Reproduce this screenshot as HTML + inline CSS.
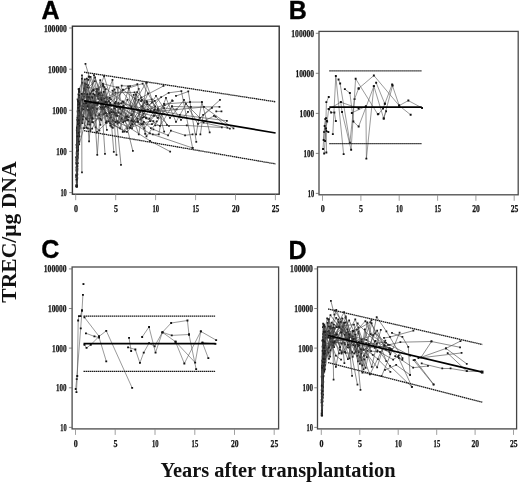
<!DOCTYPE html>
<html><head><meta charset="utf-8"><title>TREC</title>
<style>
html,body{margin:0;padding:0;background:#fff;}
body{width:520px;height:482px;overflow:hidden;font-family:"Liberation Serif",serif;}
svg{display:block;will-change:transform;opacity:0.999;}
.tk{font-family:"Liberation Serif",serif;font-weight:bold;font-size:9.8px;fill:#111;stroke:#111;stroke-width:0.25px;}
.pl{font-family:"Liberation Sans",sans-serif;font-weight:bold;font-size:25px;fill:#000;stroke:#000;stroke-width:0.35px;}
.ax{font-family:"Liberation Serif",serif;font-weight:bold;font-size:20.4px;fill:#111;}
</style></head><body>
<svg width="520" height="482" viewBox="0 0 520 482">
<rect width="520" height="482" fill="#fff"/>
<rect x="72.4" y="26.2" width="206.8" height="168.0" fill="none" stroke="#303030" stroke-width="1.4"/>
<line x1="69.2" y1="28.0" x2="72.4" y2="28.0" stroke="#666" stroke-width="0.8"/>
<text class="tk" x="66.8" y="31.5" text-anchor="end" textLength="22.8" lengthAdjust="spacingAndGlyphs">100000</text>
<line x1="69.2" y1="69.2" x2="72.4" y2="69.2" stroke="#666" stroke-width="0.8"/>
<text class="tk" x="66.8" y="72.7" text-anchor="end" textLength="18.7" lengthAdjust="spacingAndGlyphs">10000</text>
<line x1="69.2" y1="110.3" x2="72.4" y2="110.3" stroke="#666" stroke-width="0.8"/>
<text class="tk" x="66.8" y="113.8" text-anchor="end" textLength="14.6" lengthAdjust="spacingAndGlyphs">1000</text>
<line x1="69.2" y1="151.4" x2="72.4" y2="151.4" stroke="#666" stroke-width="0.8"/>
<text class="tk" x="66.8" y="154.9" text-anchor="end" textLength="10.5" lengthAdjust="spacingAndGlyphs">100</text>
<line x1="69.2" y1="192.6" x2="72.4" y2="192.6" stroke="#666" stroke-width="0.8"/>
<text class="tk" x="66.8" y="196.1" text-anchor="end" textLength="6.4" lengthAdjust="spacingAndGlyphs">10</text>
<line x1="75.7" y1="194.2" x2="75.7" y2="200.2" stroke="#888" stroke-width="0.8"/>
<text class="tk" x="75.9" y="211.8" text-anchor="middle" textLength="4.0" lengthAdjust="spacingAndGlyphs">0</text>
<line x1="115.7" y1="194.2" x2="115.7" y2="200.2" stroke="#888" stroke-width="0.8"/>
<text class="tk" x="115.9" y="211.8" text-anchor="middle" textLength="4.0" lengthAdjust="spacingAndGlyphs">5</text>
<line x1="155.6" y1="194.2" x2="155.6" y2="200.2" stroke="#888" stroke-width="0.8"/>
<text class="tk" x="155.8" y="211.8" text-anchor="middle" textLength="6.6" lengthAdjust="spacingAndGlyphs">10</text>
<line x1="195.6" y1="194.2" x2="195.6" y2="200.2" stroke="#888" stroke-width="0.8"/>
<text class="tk" x="195.8" y="211.8" text-anchor="middle" textLength="6.6" lengthAdjust="spacingAndGlyphs">15</text>
<line x1="235.5" y1="194.2" x2="235.5" y2="200.2" stroke="#888" stroke-width="0.8"/>
<text class="tk" x="235.7" y="211.8" text-anchor="middle" textLength="7.6" lengthAdjust="spacingAndGlyphs">20</text>
<line x1="275.4" y1="194.2" x2="275.4" y2="200.2" stroke="#888" stroke-width="0.8"/>
<text class="tk" x="275.6" y="211.8" text-anchor="middle" textLength="7.6" lengthAdjust="spacingAndGlyphs">25</text>
<rect x="319.0" y="31.4" width="199.2" height="163.4" fill="none" stroke="#4a4a4a" stroke-width="1.3"/>
<line x1="315.8" y1="33.3" x2="319.0" y2="33.3" stroke="#666" stroke-width="0.8"/>
<text class="tk" x="314.1" y="36.8" text-anchor="end" textLength="22.8" lengthAdjust="spacingAndGlyphs">100000</text>
<line x1="315.8" y1="73.3" x2="319.0" y2="73.3" stroke="#666" stroke-width="0.8"/>
<text class="tk" x="314.1" y="76.8" text-anchor="end" textLength="18.7" lengthAdjust="spacingAndGlyphs">10000</text>
<line x1="315.8" y1="113.4" x2="319.0" y2="113.4" stroke="#666" stroke-width="0.8"/>
<text class="tk" x="314.1" y="116.9" text-anchor="end" textLength="14.6" lengthAdjust="spacingAndGlyphs">1000</text>
<line x1="315.8" y1="153.4" x2="319.0" y2="153.4" stroke="#666" stroke-width="0.8"/>
<text class="tk" x="314.1" y="156.9" text-anchor="end" textLength="10.5" lengthAdjust="spacingAndGlyphs">100</text>
<line x1="315.8" y1="193.4" x2="319.0" y2="193.4" stroke="#666" stroke-width="0.8"/>
<text class="tk" x="314.1" y="196.9" text-anchor="end" textLength="6.4" lengthAdjust="spacingAndGlyphs">10</text>
<line x1="322.5" y1="194.8" x2="322.5" y2="200.8" stroke="#888" stroke-width="0.8"/>
<text class="tk" x="322.7" y="212.4" text-anchor="middle" textLength="4.0" lengthAdjust="spacingAndGlyphs">0</text>
<line x1="360.9" y1="194.8" x2="360.9" y2="200.8" stroke="#888" stroke-width="0.8"/>
<text class="tk" x="361.1" y="212.4" text-anchor="middle" textLength="4.0" lengthAdjust="spacingAndGlyphs">5</text>
<line x1="399.2" y1="194.8" x2="399.2" y2="200.8" stroke="#888" stroke-width="0.8"/>
<text class="tk" x="399.4" y="212.4" text-anchor="middle" textLength="6.6" lengthAdjust="spacingAndGlyphs">10</text>
<line x1="437.6" y1="194.8" x2="437.6" y2="200.8" stroke="#888" stroke-width="0.8"/>
<text class="tk" x="437.8" y="212.4" text-anchor="middle" textLength="6.6" lengthAdjust="spacingAndGlyphs">15</text>
<line x1="475.9" y1="194.8" x2="475.9" y2="200.8" stroke="#888" stroke-width="0.8"/>
<text class="tk" x="476.1" y="212.4" text-anchor="middle" textLength="7.6" lengthAdjust="spacingAndGlyphs">20</text>
<line x1="514.2" y1="194.8" x2="514.2" y2="200.8" stroke="#888" stroke-width="0.8"/>
<text class="tk" x="514.5" y="212.4" text-anchor="middle" textLength="7.6" lengthAdjust="spacingAndGlyphs">25</text>
<rect x="72.1" y="267.0" width="206.5" height="161.9" fill="none" stroke="#4a4a4a" stroke-width="1.3"/>
<line x1="68.9" y1="268.9" x2="72.1" y2="268.9" stroke="#666" stroke-width="0.8"/>
<text class="tk" x="66.6" y="272.4" text-anchor="end" textLength="22.8" lengthAdjust="spacingAndGlyphs">100000</text>
<line x1="68.9" y1="308.5" x2="72.1" y2="308.5" stroke="#666" stroke-width="0.8"/>
<text class="tk" x="66.6" y="312.0" text-anchor="end" textLength="18.7" lengthAdjust="spacingAndGlyphs">10000</text>
<line x1="68.9" y1="348.1" x2="72.1" y2="348.1" stroke="#666" stroke-width="0.8"/>
<text class="tk" x="66.6" y="351.6" text-anchor="end" textLength="14.6" lengthAdjust="spacingAndGlyphs">1000</text>
<line x1="68.9" y1="387.8" x2="72.1" y2="387.8" stroke="#666" stroke-width="0.8"/>
<text class="tk" x="66.6" y="391.3" text-anchor="end" textLength="10.5" lengthAdjust="spacingAndGlyphs">100</text>
<line x1="68.9" y1="427.4" x2="72.1" y2="427.4" stroke="#666" stroke-width="0.8"/>
<text class="tk" x="66.6" y="430.9" text-anchor="end" textLength="6.4" lengthAdjust="spacingAndGlyphs">10</text>
<line x1="75.5" y1="428.9" x2="75.5" y2="434.9" stroke="#888" stroke-width="0.8"/>
<text class="tk" x="75.7" y="446.5" text-anchor="middle" textLength="4.0" lengthAdjust="spacingAndGlyphs">0</text>
<line x1="115.2" y1="428.9" x2="115.2" y2="434.9" stroke="#888" stroke-width="0.8"/>
<text class="tk" x="115.5" y="446.5" text-anchor="middle" textLength="4.0" lengthAdjust="spacingAndGlyphs">5</text>
<line x1="155.0" y1="428.9" x2="155.0" y2="434.9" stroke="#888" stroke-width="0.8"/>
<text class="tk" x="155.2" y="446.5" text-anchor="middle" textLength="6.6" lengthAdjust="spacingAndGlyphs">10</text>
<line x1="194.8" y1="428.9" x2="194.8" y2="434.9" stroke="#888" stroke-width="0.8"/>
<text class="tk" x="194.9" y="446.5" text-anchor="middle" textLength="6.6" lengthAdjust="spacingAndGlyphs">15</text>
<line x1="234.5" y1="428.9" x2="234.5" y2="434.9" stroke="#888" stroke-width="0.8"/>
<text class="tk" x="234.7" y="446.5" text-anchor="middle" textLength="7.6" lengthAdjust="spacingAndGlyphs">20</text>
<line x1="274.2" y1="428.9" x2="274.2" y2="434.9" stroke="#888" stroke-width="0.8"/>
<text class="tk" x="274.4" y="446.5" text-anchor="middle" textLength="7.6" lengthAdjust="spacingAndGlyphs">25</text>
<rect x="317.5" y="266.9" width="199.1" height="162.0" fill="none" stroke="#444" stroke-width="1.3"/>
<line x1="314.3" y1="268.9" x2="317.5" y2="268.9" stroke="#666" stroke-width="0.8"/>
<text class="tk" x="312.9" y="272.4" text-anchor="end" textLength="22.8" lengthAdjust="spacingAndGlyphs">100000</text>
<line x1="314.3" y1="308.5" x2="317.5" y2="308.5" stroke="#666" stroke-width="0.8"/>
<text class="tk" x="312.9" y="312.0" text-anchor="end" textLength="18.7" lengthAdjust="spacingAndGlyphs">10000</text>
<line x1="314.3" y1="348.1" x2="317.5" y2="348.1" stroke="#666" stroke-width="0.8"/>
<text class="tk" x="312.9" y="351.6" text-anchor="end" textLength="14.6" lengthAdjust="spacingAndGlyphs">1000</text>
<line x1="314.3" y1="387.8" x2="317.5" y2="387.8" stroke="#666" stroke-width="0.8"/>
<text class="tk" x="312.9" y="391.3" text-anchor="end" textLength="10.5" lengthAdjust="spacingAndGlyphs">100</text>
<line x1="314.3" y1="427.4" x2="317.5" y2="427.4" stroke="#666" stroke-width="0.8"/>
<text class="tk" x="312.9" y="430.9" text-anchor="end" textLength="6.4" lengthAdjust="spacingAndGlyphs">10</text>
<line x1="321.3" y1="428.9" x2="321.3" y2="434.9" stroke="#888" stroke-width="0.8"/>
<text class="tk" x="321.5" y="446.5" text-anchor="middle" textLength="4.0" lengthAdjust="spacingAndGlyphs">0</text>
<line x1="359.8" y1="428.9" x2="359.8" y2="434.9" stroke="#888" stroke-width="0.8"/>
<text class="tk" x="359.9" y="446.5" text-anchor="middle" textLength="4.0" lengthAdjust="spacingAndGlyphs">5</text>
<line x1="398.2" y1="428.9" x2="398.2" y2="434.9" stroke="#888" stroke-width="0.8"/>
<text class="tk" x="398.4" y="446.5" text-anchor="middle" textLength="6.6" lengthAdjust="spacingAndGlyphs">10</text>
<line x1="436.7" y1="428.9" x2="436.7" y2="434.9" stroke="#888" stroke-width="0.8"/>
<text class="tk" x="436.9" y="446.5" text-anchor="middle" textLength="6.6" lengthAdjust="spacingAndGlyphs">15</text>
<line x1="475.1" y1="428.9" x2="475.1" y2="434.9" stroke="#888" stroke-width="0.8"/>
<text class="tk" x="475.3" y="446.5" text-anchor="middle" textLength="7.6" lengthAdjust="spacingAndGlyphs">20</text>
<line x1="513.5" y1="428.9" x2="513.5" y2="434.9" stroke="#888" stroke-width="0.8"/>
<text class="tk" x="513.8" y="446.5" text-anchor="middle" textLength="7.6" lengthAdjust="spacingAndGlyphs">25</text>
<text class="pl" x="41.6" y="19.2">A</text>
<text class="pl" x="288.8" y="19.2">B</text>
<text class="pl" x="41.2" y="257.7">C</text>
<text class="pl" x="288.6" y="258.6">D</text>
<text class="ax" x="160.5" y="476.5" textLength="235" lengthAdjust="spacingAndGlyphs">Years after transplantation</text>
<text class="ax" transform="translate(15.6,302.7) rotate(-90)" textLength="141.2" lengthAdjust="spacingAndGlyphs">TREC/μg DNA</text>
<path d="M323.0 149.0 L324.2 131.9 L326.0 118.2 L326.4 102.2 L328.7 97.0" fill="none" stroke="#555" stroke-width="0.6"/>
<path d="M322.1 148.1h1.9v1.9h-1.9zM323.2 131.0h1.9v1.9h-1.9zM325.1 117.2h1.9v1.9h-1.9zM325.4 101.2h1.9v1.9h-1.9zM327.8 96.0h1.9v1.9h-1.9z" fill="#111"/>
<path d="M324.2 153.5 L326.0 128.4 L327.1 121.6 L328.7 109.1 L331.2 112.5 L334.4 112.5 L335.8 121.1" fill="none" stroke="#555" stroke-width="0.6"/>
<path d="M323.2 152.6h1.9v1.9h-1.9zM325.1 127.5h1.9v1.9h-1.9zM326.2 120.6h1.9v1.9h-1.9zM327.8 108.1h1.9v1.9h-1.9zM330.2 111.5h1.9v1.9h-1.9zM333.4 111.5h1.9v1.9h-1.9zM334.9 120.1h1.9v1.9h-1.9z" fill="#111"/>
<path d="M326.4 152.4 L326.4 131.0 L328.3 131.9" fill="none" stroke="#555" stroke-width="0.6"/>
<path d="M325.4 151.5h1.9v1.9h-1.9zM325.4 130.1h1.9v1.9h-1.9zM327.4 131.0h1.9v1.9h-1.9z" fill="#111"/>
<path d="M332.8 134.1 L335.8 76.0 L343.6 154.2" fill="none" stroke="#555" stroke-width="0.6"/>
<path d="M331.9 133.2h1.9v1.9h-1.9zM334.9 75.0h1.9v1.9h-1.9zM342.7 153.2h1.9v1.9h-1.9z" fill="#111"/>
<path d="M338.5 79.4 L340.1 83.5 L349.9 142.6 L354.5 99.2 L358.6 88.5" fill="none" stroke="#555" stroke-width="0.6"/>
<path d="M337.6 78.5h1.9v1.9h-1.9zM339.2 82.5h1.9v1.9h-1.9zM348.9 141.7h1.9v1.9h-1.9zM353.6 98.2h1.9v1.9h-1.9zM357.7 87.5h1.9v1.9h-1.9z" fill="#111"/>
<path d="M340.8 102.2 L342.0 112.0 L351.1 149.7 L355.6 78.7 L377.8 114.3" fill="none" stroke="#555" stroke-width="0.6"/>
<path d="M339.9 101.2h1.9v1.9h-1.9zM341.1 111.0h1.9v1.9h-1.9zM350.2 148.8h1.9v1.9h-1.9zM354.7 77.8h1.9v1.9h-1.9zM376.9 113.3h1.9v1.9h-1.9z" fill="#111"/>
<path d="M344.9 89.2 L349.9 93.1 L353.4 121.6 L358.6 126.6 L373.9 86.2 L383.7 118.6 L386.0 111.3" fill="none" stroke="#555" stroke-width="0.6"/>
<path d="M343.9 88.2h1.9v1.9h-1.9zM348.9 92.1h1.9v1.9h-1.9zM352.4 120.6h1.9v1.9h-1.9zM357.7 125.6h1.9v1.9h-1.9zM372.9 85.2h1.9v1.9h-1.9zM382.8 117.6h1.9v1.9h-1.9zM385.1 110.3h1.9v1.9h-1.9z" fill="#111"/>
<path d="M358.6 88.5 L373.9 75.5 L399.2 105.6 L408.3 100.6 L422.0 107.9" fill="none" stroke="#555" stroke-width="0.6"/>
<path d="M357.7 87.5h1.9v1.9h-1.9zM372.9 74.5h1.9v1.9h-1.9zM398.2 104.6h1.9v1.9h-1.9zM407.4 99.6h1.9v1.9h-1.9zM421.1 107.0h1.9v1.9h-1.9z" fill="#111"/>
<path d="M351.8 112.9 L365.9 106.3 L366.4 158.6 L373.9 86.2" fill="none" stroke="#555" stroke-width="0.6"/>
<path d="M350.9 112.0h1.9v1.9h-1.9zM364.9 105.3h1.9v1.9h-1.9zM365.4 157.7h1.9v1.9h-1.9zM372.9 85.2h1.9v1.9h-1.9z" fill="#111"/>
<path d="M376.2 82.8 L384.8 103.8 L392.1 84.6 L399.2 105.6 L410.6 114.8" fill="none" stroke="#555" stroke-width="0.6"/>
<path d="M375.2 81.8h1.9v1.9h-1.9zM383.9 102.8h1.9v1.9h-1.9zM391.2 83.6h1.9v1.9h-1.9zM398.2 104.6h1.9v1.9h-1.9zM409.7 113.8h1.9v1.9h-1.9z" fill="#111"/>
<path d="M378.4 114.1 L383.0 108.6 L384.8 103.8" fill="none" stroke="#555" stroke-width="0.6"/>
<path d="M377.4 113.1h1.9v1.9h-1.9zM382.1 107.6h1.9v1.9h-1.9zM383.9 102.8h1.9v1.9h-1.9z" fill="#111"/>
<path d="M383.7 118.6 L392.6 85.6" fill="none" stroke="#555" stroke-width="0.6"/>
<path d="M382.8 117.6h1.9v1.9h-1.9zM391.7 84.6h1.9v1.9h-1.9z" fill="#111"/>
<path d="M328.7 109.1 L340.8 102.2 L358.6 108.4" fill="none" stroke="#555" stroke-width="0.6"/>
<path d="M327.8 108.1h1.9v1.9h-1.9zM339.9 101.2h1.9v1.9h-1.9zM357.7 107.5h1.9v1.9h-1.9z" fill="#111"/>
<path d="M325.0 141.0 L325.5 128.4 L326.8 121.0" fill="none" stroke="#555" stroke-width="0.6"/>
<path d="M324.1 140.1h1.9v1.9h-1.9zM324.6 127.5h1.9v1.9h-1.9zM325.9 120.0h1.9v1.9h-1.9z" fill="#111"/>
<path d="M323.6 140.0 L324.6 126.0 L325.4 119.0" fill="none" stroke="#555" stroke-width="0.6"/>
<path d="M322.7 139.1h1.9v1.9h-1.9zM323.7 125.0h1.9v1.9h-1.9zM324.4 118.0h1.9v1.9h-1.9z" fill="#111"/>
<path d="M75.7 389.0 L76.7 379.1 L80.7 328.3 L82.0 310.5 L82.9 294.9" fill="none" stroke="#555" stroke-width="0.6"/>
<path d="M74.8 388.1h1.9v1.9h-1.9zM75.8 378.2h1.9v1.9h-1.9zM79.8 327.4h1.9v1.9h-1.9zM81.0 309.6h1.9v1.9h-1.9zM82.0 293.9h1.9v1.9h-1.9z" fill="#111"/>
<path d="M76.4 392.2 L77.3 376.0 L78.2 320.5 L78.9 316.1 L80.4 316.1 L82.0 310.5" fill="none" stroke="#555" stroke-width="0.6"/>
<path d="M75.5 391.2h1.9v1.9h-1.9zM76.3 375.1h1.9v1.9h-1.9zM77.2 319.6h1.9v1.9h-1.9zM78.0 315.2h1.9v1.9h-1.9zM79.5 315.2h1.9v1.9h-1.9zM81.0 309.6h1.9v1.9h-1.9z" fill="#111"/>
<path d="M82.5 283.1h1.9v1.9h-1.9z" fill="#111"/>
<path d="M84.5 317.4 L99.1 336.4 L106.3 330.8 L132.1 387.8" fill="none" stroke="#555" stroke-width="0.6"/>
<path d="M83.5 316.4h1.9v1.9h-1.9zM98.1 335.4h1.9v1.9h-1.9zM105.3 329.9h1.9v1.9h-1.9zM131.2 386.9h1.9v1.9h-1.9z" fill="#111"/>
<path d="M86.0 333.3 L94.4 336.4 L99.1 337.5 L106.3 361.3" fill="none" stroke="#555" stroke-width="0.6"/>
<path d="M85.0 332.4h1.9v1.9h-1.9zM93.5 335.4h1.9v1.9h-1.9zM98.1 336.6h1.9v1.9h-1.9zM105.3 360.4h1.9v1.9h-1.9z" fill="#111"/>
<path d="M84.5 344.8 L86.6 347.9 L90.7 344.8 L99.1 336.4" fill="none" stroke="#555" stroke-width="0.6"/>
<path d="M83.5 343.9h1.9v1.9h-1.9zM85.6 346.9h1.9v1.9h-1.9zM89.8 343.9h1.9v1.9h-1.9zM98.1 335.4h1.9v1.9h-1.9z" fill="#111"/>
<path d="M129.0 337.9 L131.2 351.0" fill="none" stroke="#555" stroke-width="0.6"/>
<path d="M128.1 336.9h1.9v1.9h-1.9zM130.2 350.1h1.9v1.9h-1.9z" fill="#111"/>
<path d="M128.1 347.3 L135.3 349.5 L139.9 362.9 L143.7 352.6 L149.0 343.2 L154.6 346.3 L162.4 332.3 L171.1 323.0 L187.4 320.5 L189.0 334.5 L196.1 369.1" fill="none" stroke="#555" stroke-width="0.6"/>
<path d="M127.1 346.4h1.9v1.9h-1.9zM134.4 348.6h1.9v1.9h-1.9zM139.0 361.9h1.9v1.9h-1.9zM142.8 351.7h1.9v1.9h-1.9zM148.1 342.2h1.9v1.9h-1.9zM153.7 345.4h1.9v1.9h-1.9zM161.5 331.4h1.9v1.9h-1.9zM170.2 322.1h1.9v1.9h-1.9zM186.5 319.6h1.9v1.9h-1.9zM188.1 333.6h1.9v1.9h-1.9zM195.2 368.2h1.9v1.9h-1.9z" fill="#111"/>
<path d="M142.1 337.0 L149.0 327.0 L155.5 352.6 L162.4 332.3 L171.7 335.4 L189.0 334.5" fill="none" stroke="#555" stroke-width="0.6"/>
<path d="M141.2 336.1h1.9v1.9h-1.9zM148.1 326.1h1.9v1.9h-1.9zM154.6 351.7h1.9v1.9h-1.9zM161.5 331.4h1.9v1.9h-1.9zM170.8 334.4h1.9v1.9h-1.9zM188.1 333.6h1.9v1.9h-1.9z" fill="#111"/>
<path d="M162.4 332.3 L175.5 341.7 L184.3 363.5 L200.8 331.4 L216.1 340.1" fill="none" stroke="#555" stroke-width="0.6"/>
<path d="M161.5 331.4h1.9v1.9h-1.9zM174.6 340.8h1.9v1.9h-1.9zM183.4 362.6h1.9v1.9h-1.9zM199.9 330.4h1.9v1.9h-1.9zM215.2 339.2h1.9v1.9h-1.9z" fill="#111"/>
<path d="M175.5 341.7 L195.2 362.6 L200.8 331.4" fill="none" stroke="#555" stroke-width="0.6"/>
<path d="M174.6 340.8h1.9v1.9h-1.9zM194.2 361.7h1.9v1.9h-1.9zM199.9 330.4h1.9v1.9h-1.9z" fill="#111"/>
<path d="M202.4 342.6 L208.3 358.2" fill="none" stroke="#555" stroke-width="0.6"/>
<path d="M201.5 341.7h1.9v1.9h-1.9zM207.4 357.2h1.9v1.9h-1.9z" fill="#111"/>
<path d="M202.4 342.6 L215.4 343.9" fill="none" stroke="#555" stroke-width="0.6"/>
<path d="M201.5 341.7h1.9v1.9h-1.9zM214.5 342.9h1.9v1.9h-1.9z" fill="#111"/>
<path d="M76.4 167.4 L76.7 154.0 L77.4 130.5 L78.2 134.4 L78.8 134.7 L79.4 132.0 L85.8 101.7 L93.7 102.3 L100.0 95.1 L113.0 120.5 L132.0 128.4 L137.4 118.9 L144.6 102.4" fill="none" stroke="#464646" stroke-width="0.62"/>
<path d="M75.5 166.5h1.75v1.75h-1.75zM75.8 153.1h1.75v1.75h-1.75zM76.5 129.6h1.75v1.75h-1.75zM77.3 133.5h1.75v1.75h-1.75zM77.9 133.8h1.75v1.75h-1.75zM78.5 131.1h1.75v1.75h-1.75zM84.9 100.8h1.75v1.75h-1.75zM92.8 101.4h1.75v1.75h-1.75zM99.2 94.2h1.75v1.75h-1.75zM112.1 119.6h1.75v1.75h-1.75zM131.1 127.5h1.75v1.75h-1.75zM136.5 118.0h1.75v1.75h-1.75zM143.7 101.5h1.75v1.75h-1.75z" fill="#1c1c1c"/>
<path d="M76.4 158.0 L76.9 130.5 L77.6 99.3 L78.0 100.5 L78.4 105.1 L78.7 100.3 L79.3 106.4 L88.7 87.7 L91.5 107.1 L101.5 109.2 L104.4 87.2 L123.3 102.5 L133.4 111.4 L149.5 118.6 L154.0 110.4" fill="none" stroke="#464646" stroke-width="0.62"/>
<path d="M75.5 157.1h1.75v1.75h-1.75zM76.0 129.6h1.75v1.75h-1.75zM76.7 98.5h1.75v1.75h-1.75zM77.2 99.6h1.75v1.75h-1.75zM77.5 104.2h1.75v1.75h-1.75zM77.8 99.4h1.75v1.75h-1.75zM78.4 105.5h1.75v1.75h-1.75zM87.9 86.8h1.75v1.75h-1.75zM90.6 106.2h1.75v1.75h-1.75zM100.6 108.3h1.75v1.75h-1.75zM103.5 86.3h1.75v1.75h-1.75zM122.4 101.6h1.75v1.75h-1.75zM132.6 110.5h1.75v1.75h-1.75zM148.6 117.8h1.75v1.75h-1.75zM153.2 109.5h1.75v1.75h-1.75z" fill="#1c1c1c"/>
<path d="M77.1 179.1 L77.9 147.6 L78.5 115.4 L79.3 111.1 L85.5 100.9 L90.3 108.8 L101.3 120.2 L111.6 109.4 L117.5 115.9 L142.8 124.2 L151.9 124.2 L156.8 121.3" fill="none" stroke="#464646" stroke-width="0.62"/>
<path d="M76.3 178.2h1.75v1.75h-1.75zM77.0 146.7h1.75v1.75h-1.75zM77.6 114.5h1.75v1.75h-1.75zM78.4 110.3h1.75v1.75h-1.75zM84.7 100.1h1.75v1.75h-1.75zM89.4 108.0h1.75v1.75h-1.75zM100.4 119.3h1.75v1.75h-1.75zM110.8 108.5h1.75v1.75h-1.75zM116.6 115.0h1.75v1.75h-1.75zM142.0 123.4h1.75v1.75h-1.75zM151.1 123.3h1.75v1.75h-1.75zM155.9 120.4h1.75v1.75h-1.75z" fill="#1c1c1c"/>
<path d="M76.7 181.8 L77.5 157.7 L78.0 135.0 L78.3 124.8 L78.6 110.8 L78.9 97.7 L79.2 88.9 L82.1 82.6 L85.4 90.5 L94.9 81.2 L98.3 99.0 L106.7 97.3 L110.7 104.5 L120.3 109.0 L144.3 128.4 L158.0 108.3" fill="none" stroke="#464646" stroke-width="0.62"/>
<path d="M75.8 180.9h1.75v1.75h-1.75zM76.6 156.8h1.75v1.75h-1.75zM77.1 134.2h1.75v1.75h-1.75zM77.4 123.9h1.75v1.75h-1.75zM77.7 110.0h1.75v1.75h-1.75zM78.0 96.8h1.75v1.75h-1.75zM78.3 88.0h1.75v1.75h-1.75zM81.2 81.7h1.75v1.75h-1.75zM84.5 89.6h1.75v1.75h-1.75zM94.0 80.3h1.75v1.75h-1.75zM97.4 98.1h1.75v1.75h-1.75zM105.8 96.4h1.75v1.75h-1.75zM109.8 103.6h1.75v1.75h-1.75zM119.4 108.1h1.75v1.75h-1.75zM143.4 127.5h1.75v1.75h-1.75zM157.1 107.4h1.75v1.75h-1.75z" fill="#1c1c1c"/>
<path d="M76.7 186.4 L77.0 171.1 L77.4 150.6 L78.0 142.3 L78.5 132.9 L79.0 126.6 L83.3 106.4 L89.9 94.2 L93.3 89.7 L96.9 109.1 L104.6 101.4 L123.0 89.8 L142.6 83.6 L155.2 106.4" fill="none" stroke="#464646" stroke-width="0.62"/>
<path d="M75.9 185.6h1.75v1.75h-1.75zM76.1 170.3h1.75v1.75h-1.75zM76.5 149.8h1.75v1.75h-1.75zM77.2 141.5h1.75v1.75h-1.75zM77.6 132.1h1.75v1.75h-1.75zM78.1 125.7h1.75v1.75h-1.75zM82.4 105.5h1.75v1.75h-1.75zM89.1 93.3h1.75v1.75h-1.75zM92.4 88.9h1.75v1.75h-1.75zM96.1 108.2h1.75v1.75h-1.75zM103.7 100.5h1.75v1.75h-1.75zM122.1 89.0h1.75v1.75h-1.75zM141.8 82.8h1.75v1.75h-1.75zM154.3 105.5h1.75v1.75h-1.75z" fill="#1c1c1c"/>
<path d="M84.0 93.7 L90.0 103.4 L95.1 101.7 L107.5 102.8 L111.5 126.8 L115.9 102.0 L122.9 89.7 L134.9 98.6 L145.0 110.1 L164.7 105.2" fill="none" stroke="#464646" stroke-width="0.62"/>
<path d="M83.1 92.8h1.75v1.75h-1.75zM89.1 102.5h1.75v1.75h-1.75zM94.2 100.8h1.75v1.75h-1.75zM106.6 101.9h1.75v1.75h-1.75zM110.6 125.9h1.75v1.75h-1.75zM115.0 101.1h1.75v1.75h-1.75zM122.0 88.8h1.75v1.75h-1.75zM134.0 97.7h1.75v1.75h-1.75zM144.1 109.2h1.75v1.75h-1.75zM163.8 104.3h1.75v1.75h-1.75z" fill="#1c1c1c"/>
<path d="M76.7 186.4 L77.3 171.3 L78.0 142.9 L78.4 136.8 L79.0 131.6" fill="none" stroke="#464646" stroke-width="0.62"/>
<path d="M75.8 185.6h1.75v1.75h-1.75zM76.4 170.4h1.75v1.75h-1.75zM77.2 142.0h1.75v1.75h-1.75zM77.5 135.9h1.75v1.75h-1.75zM78.2 130.8h1.75v1.75h-1.75z" fill="#1c1c1c"/>
<path d="M76.3 177.1 L76.8 147.2 L77.1 133.2 L77.6 134.9 L77.9 134.6 L78.6 132.4 L79.2 144.4 L88.8 110.3 L104.2 98.7 L115.5 92.7 L134.5 92.4 L141.0 101.1 L151.9 99.4" fill="none" stroke="#464646" stroke-width="0.62"/>
<path d="M75.4 176.2h1.75v1.75h-1.75zM75.9 146.3h1.75v1.75h-1.75zM76.2 132.4h1.75v1.75h-1.75zM76.7 134.0h1.75v1.75h-1.75zM77.1 133.7h1.75v1.75h-1.75zM77.8 131.6h1.75v1.75h-1.75zM78.3 143.5h1.75v1.75h-1.75zM87.9 109.4h1.75v1.75h-1.75zM103.3 97.8h1.75v1.75h-1.75zM114.6 91.8h1.75v1.75h-1.75zM133.7 91.5h1.75v1.75h-1.75zM140.2 100.2h1.75v1.75h-1.75zM151.0 98.6h1.75v1.75h-1.75z" fill="#1c1c1c"/>
<path d="M81.7 99.5 L93.2 122.3 L105.7 112.7 L118.9 122.3 L128.7 117.5" fill="none" stroke="#464646" stroke-width="0.62"/>
<path d="M80.8 98.6h1.75v1.75h-1.75zM92.3 121.5h1.75v1.75h-1.75zM104.9 111.8h1.75v1.75h-1.75zM118.1 121.4h1.75v1.75h-1.75zM127.8 116.6h1.75v1.75h-1.75z" fill="#1c1c1c"/>
<path d="M76.6 162.6 L77.4 129.8 L77.7 111.7 L78.1 114.9 L78.7 103.3 L79.4 111.7 L85.9 118.5 L100.4 118.8 L105.6 89.2 L110.3 125.6 L131.2 115.0 L146.7 101.1 L153.5 112.1 L164.1 108.0 L176.6 109.4" fill="none" stroke="#464646" stroke-width="0.62"/>
<path d="M75.8 161.7h1.75v1.75h-1.75zM76.6 128.9h1.75v1.75h-1.75zM76.8 110.8h1.75v1.75h-1.75zM77.3 114.0h1.75v1.75h-1.75zM77.8 102.4h1.75v1.75h-1.75zM78.5 110.8h1.75v1.75h-1.75zM85.0 117.6h1.75v1.75h-1.75zM99.5 118.0h1.75v1.75h-1.75zM104.8 88.3h1.75v1.75h-1.75zM109.4 124.7h1.75v1.75h-1.75zM130.3 114.2h1.75v1.75h-1.75zM145.8 100.2h1.75v1.75h-1.75zM152.6 111.3h1.75v1.75h-1.75zM163.2 107.2h1.75v1.75h-1.75zM175.7 108.6h1.75v1.75h-1.75z" fill="#1c1c1c"/>
<path d="M76.6 180.0 L77.2 163.2 L77.9 132.5 L78.2 120.0 L78.9 113.5 L79.3 105.1 L82.1 123.2 L87.2 95.0 L92.6 118.8 L97.6 96.3 L101.2 92.6 L110.3 102.8 L128.1 86.5 L132.8 121.4 L137.2 92.1 L168.9 126.0" fill="none" stroke="#464646" stroke-width="0.62"/>
<path d="M75.7 179.1h1.75v1.75h-1.75zM76.3 162.3h1.75v1.75h-1.75zM77.0 131.6h1.75v1.75h-1.75zM77.3 119.2h1.75v1.75h-1.75zM78.1 112.6h1.75v1.75h-1.75zM78.4 104.2h1.75v1.75h-1.75zM81.3 122.3h1.75v1.75h-1.75zM86.4 94.1h1.75v1.75h-1.75zM91.8 117.9h1.75v1.75h-1.75zM96.7 95.4h1.75v1.75h-1.75zM100.3 91.7h1.75v1.75h-1.75zM109.4 101.9h1.75v1.75h-1.75zM127.3 85.6h1.75v1.75h-1.75zM131.9 120.5h1.75v1.75h-1.75zM136.3 91.2h1.75v1.75h-1.75zM168.1 125.1h1.75v1.75h-1.75z" fill="#1c1c1c"/>
<path d="M89.3 97.1 L95.5 115.1 L103.0 84.9 L108.1 107.1 L114.8 113.9 L117.6 123.7 L128.8 88.3 L140.7 119.4" fill="none" stroke="#464646" stroke-width="0.62"/>
<path d="M88.4 96.2h1.75v1.75h-1.75zM94.6 114.2h1.75v1.75h-1.75zM102.2 84.1h1.75v1.75h-1.75zM107.2 106.3h1.75v1.75h-1.75zM113.9 113.1h1.75v1.75h-1.75zM116.8 122.8h1.75v1.75h-1.75zM128.0 87.4h1.75v1.75h-1.75zM139.8 118.5h1.75v1.75h-1.75z" fill="#1c1c1c"/>
<path d="M76.4 163.0 L76.8 148.0 L77.3 128.4 L77.9 104.4 L78.3 107.7" fill="none" stroke="#464646" stroke-width="0.62"/>
<path d="M75.5 162.1h1.75v1.75h-1.75zM75.9 147.1h1.75v1.75h-1.75zM76.4 127.6h1.75v1.75h-1.75zM77.0 103.5h1.75v1.75h-1.75zM77.4 106.9h1.75v1.75h-1.75z" fill="#1c1c1c"/>
<path d="M87.2 87.1 L96.9 89.2 L102.9 83.7 L116.8 87.4 L126.5 117.8 L141.1 97.7 L163.5 86.0" fill="none" stroke="#464646" stroke-width="0.62"/>
<path d="M86.3 86.3h1.75v1.75h-1.75zM96.0 88.3h1.75v1.75h-1.75zM102.0 82.8h1.75v1.75h-1.75zM115.9 86.5h1.75v1.75h-1.75zM125.6 117.0h1.75v1.75h-1.75zM140.2 96.8h1.75v1.75h-1.75zM162.6 85.1h1.75v1.75h-1.75z" fill="#1c1c1c"/>
<path d="M77.0 186.4 L77.3 174.3 L77.6 163.5 L78.2 141.9 L78.7 121.4 L79.2 100.6" fill="none" stroke="#464646" stroke-width="0.62"/>
<path d="M76.1 185.6h1.75v1.75h-1.75zM76.5 173.5h1.75v1.75h-1.75zM76.8 162.6h1.75v1.75h-1.75zM77.3 141.1h1.75v1.75h-1.75zM77.9 120.5h1.75v1.75h-1.75zM78.4 99.7h1.75v1.75h-1.75z" fill="#1c1c1c"/>
<path d="M76.9 169.7 L77.4 149.5 L78.2 129.3 L78.6 125.1 L79.3 114.3" fill="none" stroke="#464646" stroke-width="0.62"/>
<path d="M76.1 168.9h1.75v1.75h-1.75zM76.5 148.7h1.75v1.75h-1.75zM77.3 128.4h1.75v1.75h-1.75zM77.8 124.2h1.75v1.75h-1.75zM78.4 113.4h1.75v1.75h-1.75z" fill="#1c1c1c"/>
<path d="M76.5 144.8 L76.8 130.3 L77.3 119.8 L77.8 115.7 L78.5 125.6 L78.9 121.8 L79.4 118.3 L87.9 128.4 L92.1 128.7 L105.4 102.0 L127.5 128.4 L142.6 123.5 L150.2 121.1 L158.5 110.6 L164.2 131.7" fill="none" stroke="#464646" stroke-width="0.62"/>
<path d="M75.6 143.9h1.75v1.75h-1.75zM75.9 129.4h1.75v1.75h-1.75zM76.4 119.0h1.75v1.75h-1.75zM76.9 114.8h1.75v1.75h-1.75zM77.6 124.8h1.75v1.75h-1.75zM78.0 121.0h1.75v1.75h-1.75zM78.5 117.4h1.75v1.75h-1.75zM87.0 127.5h1.75v1.75h-1.75zM91.3 127.8h1.75v1.75h-1.75zM104.5 101.1h1.75v1.75h-1.75zM126.6 127.6h1.75v1.75h-1.75zM141.7 122.6h1.75v1.75h-1.75zM149.3 120.2h1.75v1.75h-1.75zM157.6 109.7h1.75v1.75h-1.75zM163.3 130.8h1.75v1.75h-1.75z" fill="#1c1c1c"/>
<path d="M77.0 176.9 L77.5 163.1 L77.8 153.9 L78.6 122.1 L79.1 118.5 L82.0 75.3 L90.3 113.5 L97.0 89.6" fill="none" stroke="#464646" stroke-width="0.62"/>
<path d="M76.1 176.0h1.75v1.75h-1.75zM76.6 162.2h1.75v1.75h-1.75zM76.9 153.0h1.75v1.75h-1.75zM77.7 121.2h1.75v1.75h-1.75zM78.2 117.6h1.75v1.75h-1.75zM81.1 74.4h1.75v1.75h-1.75zM89.4 112.6h1.75v1.75h-1.75zM96.1 88.7h1.75v1.75h-1.75z" fill="#1c1c1c"/>
<path d="M76.4 157.1 L76.7 152.5 L77.2 127.4 L77.9 109.1 L78.6 104.5 L79.3 106.1 L88.6 76.5 L102.7 107.8 L114.5 125.4 L124.6 131.6 L142.2 106.3 L148.1 93.4" fill="none" stroke="#464646" stroke-width="0.62"/>
<path d="M75.5 156.2h1.75v1.75h-1.75zM75.8 151.6h1.75v1.75h-1.75zM76.4 126.6h1.75v1.75h-1.75zM77.1 108.2h1.75v1.75h-1.75zM77.8 103.6h1.75v1.75h-1.75zM78.4 105.3h1.75v1.75h-1.75zM87.8 75.6h1.75v1.75h-1.75zM101.8 106.9h1.75v1.75h-1.75zM113.6 124.5h1.75v1.75h-1.75zM123.7 130.8h1.75v1.75h-1.75zM141.3 105.5h1.75v1.75h-1.75zM147.2 92.5h1.75v1.75h-1.75z" fill="#1c1c1c"/>
<path d="M76.8 160.5 L77.1 155.1 L77.5 138.5 L78.2 116.7 L78.7 111.9 L79.2 110.7" fill="none" stroke="#464646" stroke-width="0.62"/>
<path d="M75.9 159.6h1.75v1.75h-1.75zM76.2 154.2h1.75v1.75h-1.75zM76.7 137.6h1.75v1.75h-1.75zM77.3 115.8h1.75v1.75h-1.75zM77.8 111.1h1.75v1.75h-1.75zM78.4 109.8h1.75v1.75h-1.75z" fill="#1c1c1c"/>
<path d="M76.6 174.3 L77.1 162.4 L77.6 136.2 L78.2 132.7 L78.9 128.0 L84.0 128.2 L86.8 100.6 L91.9 96.7 L102.4 95.3 L106.3 104.5 L118.6 103.9 L131.9 114.5 L138.8 134.4 L146.8 82.7" fill="none" stroke="#464646" stroke-width="0.62"/>
<path d="M75.7 173.4h1.75v1.75h-1.75zM76.3 161.6h1.75v1.75h-1.75zM76.7 135.4h1.75v1.75h-1.75zM77.3 131.8h1.75v1.75h-1.75zM78.1 127.2h1.75v1.75h-1.75zM83.2 127.3h1.75v1.75h-1.75zM85.9 99.8h1.75v1.75h-1.75zM91.0 95.8h1.75v1.75h-1.75zM101.6 94.4h1.75v1.75h-1.75zM105.4 103.6h1.75v1.75h-1.75zM117.7 103.0h1.75v1.75h-1.75zM131.1 113.6h1.75v1.75h-1.75zM137.9 133.5h1.75v1.75h-1.75zM145.9 81.8h1.75v1.75h-1.75z" fill="#1c1c1c"/>
<path d="M77.0 149.1 L77.7 116.7 L78.4 108.0 L78.9 106.0 L86.0 84.3 L89.3 110.1 L97.4 104.8 L103.7 91.9 L110.9 112.3 L121.0 113.7 L125.8 117.0 L130.8 125.6 L136.0 94.6" fill="none" stroke="#464646" stroke-width="0.62"/>
<path d="M76.2 148.2h1.75v1.75h-1.75zM76.9 115.8h1.75v1.75h-1.75zM77.5 107.1h1.75v1.75h-1.75zM78.0 105.1h1.75v1.75h-1.75zM85.1 83.4h1.75v1.75h-1.75zM88.4 109.3h1.75v1.75h-1.75zM96.5 103.9h1.75v1.75h-1.75zM102.8 91.0h1.75v1.75h-1.75zM110.0 111.5h1.75v1.75h-1.75zM120.1 112.8h1.75v1.75h-1.75zM124.9 116.1h1.75v1.75h-1.75zM129.9 124.7h1.75v1.75h-1.75zM135.1 93.8h1.75v1.75h-1.75z" fill="#1c1c1c"/>
<path d="M87.2 84.3h1.75v1.75h-1.75z" fill="#1c1c1c"/>
<path d="M87.9 105.5 L90.4 130.2 L94.6 95.0 L101.2 98.2 L120.2 128.4 L123.5 105.8 L127.0 120.2 L133.5 121.8 L147.2 104.2 L157.8 109.9 L172.7 101.0" fill="none" stroke="#464646" stroke-width="0.62"/>
<path d="M87.0 104.6h1.75v1.75h-1.75zM89.5 129.3h1.75v1.75h-1.75zM93.7 94.1h1.75v1.75h-1.75zM100.4 97.3h1.75v1.75h-1.75zM119.3 127.5h1.75v1.75h-1.75zM122.7 104.9h1.75v1.75h-1.75zM126.1 119.4h1.75v1.75h-1.75zM132.6 120.9h1.75v1.75h-1.75zM146.3 103.3h1.75v1.75h-1.75zM156.9 109.1h1.75v1.75h-1.75zM171.8 100.1h1.75v1.75h-1.75z" fill="#1c1c1c"/>
<path d="M76.9 165.6 L77.6 141.8 L78.1 123.0 L78.6 113.0 L78.9 108.8 L79.3 107.3" fill="none" stroke="#464646" stroke-width="0.62"/>
<path d="M76.0 164.7h1.75v1.75h-1.75zM76.7 140.9h1.75v1.75h-1.75zM77.2 122.2h1.75v1.75h-1.75zM77.7 112.1h1.75v1.75h-1.75zM78.1 108.0h1.75v1.75h-1.75zM78.4 106.4h1.75v1.75h-1.75z" fill="#1c1c1c"/>
<path d="M77.2 152.7 L77.8 125.7 L78.5 103.9 L79.0 109.5 L86.3 128.0 L91.7 91.3 L103.3 86.0 L110.0 104.7 L121.1 103.3 L148.0 109.5 L157.5 117.6" fill="none" stroke="#464646" stroke-width="0.62"/>
<path d="M76.3 151.8h1.75v1.75h-1.75zM76.9 124.8h1.75v1.75h-1.75zM77.6 103.0h1.75v1.75h-1.75zM78.1 108.6h1.75v1.75h-1.75zM85.5 127.1h1.75v1.75h-1.75zM90.8 90.5h1.75v1.75h-1.75zM102.4 85.1h1.75v1.75h-1.75zM109.1 103.8h1.75v1.75h-1.75zM120.2 102.4h1.75v1.75h-1.75zM147.1 108.7h1.75v1.75h-1.75zM156.6 116.8h1.75v1.75h-1.75z" fill="#1c1c1c"/>
<path d="M77.2 177.8 L77.9 147.3" fill="none" stroke="#464646" stroke-width="0.62"/>
<path d="M76.4 176.9h1.75v1.75h-1.75zM77.0 146.4h1.75v1.75h-1.75z" fill="#1c1c1c"/>
<path d="M76.5 170.7 L76.8 159.8 L77.6 132.5 L78.0 126.7 L78.7 129.0 L82.8 119.5 L90.4 93.4 L100.4 124.8 L103.5 108.6 L106.6 121.3 L117.2 121.4 L127.4 99.9 L137.8 121.1" fill="none" stroke="#464646" stroke-width="0.62"/>
<path d="M75.6 169.8h1.75v1.75h-1.75zM75.9 158.9h1.75v1.75h-1.75zM76.7 131.7h1.75v1.75h-1.75zM77.2 125.8h1.75v1.75h-1.75zM77.8 128.2h1.75v1.75h-1.75zM81.9 118.6h1.75v1.75h-1.75zM89.6 92.5h1.75v1.75h-1.75zM99.5 123.9h1.75v1.75h-1.75zM102.6 107.7h1.75v1.75h-1.75zM105.8 120.4h1.75v1.75h-1.75zM116.3 120.5h1.75v1.75h-1.75zM126.5 99.0h1.75v1.75h-1.75zM136.9 120.2h1.75v1.75h-1.75z" fill="#1c1c1c"/>
<path d="M87.1 102.0 L90.8 108.4 L98.2 89.2 L103.7 114.2 L106.5 101.8 L110.8 117.6 L114.2 108.1 L118.7 112.2 L132.1 124.2 L146.9 102.1 L154.8 101.0 L166.9 125.1" fill="none" stroke="#464646" stroke-width="0.62"/>
<path d="M86.2 101.1h1.75v1.75h-1.75zM89.9 107.5h1.75v1.75h-1.75zM97.4 88.3h1.75v1.75h-1.75zM102.9 113.4h1.75v1.75h-1.75zM105.6 100.9h1.75v1.75h-1.75zM109.9 116.7h1.75v1.75h-1.75zM113.3 107.2h1.75v1.75h-1.75zM117.8 111.4h1.75v1.75h-1.75zM131.3 123.3h1.75v1.75h-1.75zM146.1 101.2h1.75v1.75h-1.75zM153.9 100.1h1.75v1.75h-1.75zM166.0 124.2h1.75v1.75h-1.75z" fill="#1c1c1c"/>
<path d="M84.1 96.7 L101.0 104.0 L111.5 111.8 L115.8 113.2 L125.1 121.1 L138.7 88.9" fill="none" stroke="#464646" stroke-width="0.62"/>
<path d="M83.2 95.8h1.75v1.75h-1.75zM100.1 103.1h1.75v1.75h-1.75zM110.6 110.9h1.75v1.75h-1.75zM114.9 112.3h1.75v1.75h-1.75zM124.2 120.2h1.75v1.75h-1.75zM137.8 88.0h1.75v1.75h-1.75z" fill="#1c1c1c"/>
<path d="M76.5 174.7 L76.9 165.3 L77.2 155.0 L78.0 127.3 L78.3 124.9 L78.7 119.8 L79.4 114.1" fill="none" stroke="#464646" stroke-width="0.62"/>
<path d="M75.6 173.9h1.75v1.75h-1.75zM76.0 164.4h1.75v1.75h-1.75zM76.4 154.1h1.75v1.75h-1.75zM77.1 126.4h1.75v1.75h-1.75zM77.5 124.1h1.75v1.75h-1.75zM77.8 118.9h1.75v1.75h-1.75zM78.5 113.2h1.75v1.75h-1.75z" fill="#1c1c1c"/>
<path d="M77.1 140.4 L77.8 110.8 L78.6 89.1" fill="none" stroke="#464646" stroke-width="0.62"/>
<path d="M76.2 139.5h1.75v1.75h-1.75zM76.9 109.9h1.75v1.75h-1.75zM77.7 88.2h1.75v1.75h-1.75z" fill="#1c1c1c"/>
<path d="M83.9 103.6 L95.6 127.4 L99.4 130.5" fill="none" stroke="#464646" stroke-width="0.62"/>
<path d="M83.0 102.8h1.75v1.75h-1.75zM94.7 126.6h1.75v1.75h-1.75zM98.5 129.6h1.75v1.75h-1.75z" fill="#1c1c1c"/>
<path d="M76.4 184.7 L77.0 172.9 L77.7 149.5 L78.0 141.1 L78.5 119.0 L78.9 112.7 L79.4 114.7 L83.4 109.4 L95.0 77.4 L106.9 115.9 L115.3 122.1 L121.5 118.6 L130.0 127.4 L142.4 117.5 L146.5 136.4 L172.2 100.4" fill="none" stroke="#464646" stroke-width="0.62"/>
<path d="M75.6 183.9h1.75v1.75h-1.75zM76.1 172.0h1.75v1.75h-1.75zM76.9 148.7h1.75v1.75h-1.75zM77.2 140.2h1.75v1.75h-1.75zM77.7 118.1h1.75v1.75h-1.75zM78.0 111.8h1.75v1.75h-1.75zM78.6 113.9h1.75v1.75h-1.75zM82.5 108.5h1.75v1.75h-1.75zM94.2 76.5h1.75v1.75h-1.75zM106.0 115.0h1.75v1.75h-1.75zM114.5 121.3h1.75v1.75h-1.75zM120.6 117.8h1.75v1.75h-1.75zM129.2 126.6h1.75v1.75h-1.75zM141.5 116.7h1.75v1.75h-1.75zM145.6 135.5h1.75v1.75h-1.75zM171.3 99.6h1.75v1.75h-1.75z" fill="#1c1c1c"/>
<path d="M76.8 186.4 L77.4 168.4 L78.0 139.0 L78.8 105.0 L79.2 107.1" fill="none" stroke="#464646" stroke-width="0.62"/>
<path d="M75.9 185.6h1.75v1.75h-1.75zM76.6 167.6h1.75v1.75h-1.75zM77.2 138.2h1.75v1.75h-1.75zM77.9 104.1h1.75v1.75h-1.75zM78.3 106.2h1.75v1.75h-1.75z" fill="#1c1c1c"/>
<path d="M89.3 97.3 L99.3 114.4 L104.1 107.3 L110.2 123.4 L127.0 132.0 L143.5 113.6 L154.0 116.0 L164.5 114.0" fill="none" stroke="#464646" stroke-width="0.62"/>
<path d="M88.4 96.4h1.75v1.75h-1.75zM98.5 113.6h1.75v1.75h-1.75zM103.2 106.4h1.75v1.75h-1.75zM109.3 122.6h1.75v1.75h-1.75zM126.1 131.1h1.75v1.75h-1.75zM142.7 112.7h1.75v1.75h-1.75zM153.1 115.1h1.75v1.75h-1.75zM163.6 113.2h1.75v1.75h-1.75z" fill="#1c1c1c"/>
<path d="M77.0 186.4 L77.4 169.9 L78.1 145.7 L78.5 131.3 L79.3 105.2 L86.8 78.7 L92.1 118.5 L96.7 91.7 L100.3 80.1 L106.8 130.0" fill="none" stroke="#464646" stroke-width="0.62"/>
<path d="M76.1 185.6h1.75v1.75h-1.75zM76.5 169.0h1.75v1.75h-1.75zM77.2 144.8h1.75v1.75h-1.75zM77.6 130.4h1.75v1.75h-1.75zM78.4 104.3h1.75v1.75h-1.75zM85.9 77.8h1.75v1.75h-1.75zM91.3 117.6h1.75v1.75h-1.75zM95.9 90.8h1.75v1.75h-1.75zM99.4 79.3h1.75v1.75h-1.75zM106.0 129.1h1.75v1.75h-1.75z" fill="#1c1c1c"/>
<path d="M76.4 175.7 L76.9 160.8 L77.3 143.1 L77.6 131.4 L78.2 121.5 L78.6 114.1 L79.0 105.8 L87.1 106.5 L93.1 108.0 L99.3 115.2" fill="none" stroke="#464646" stroke-width="0.62"/>
<path d="M75.5 174.8h1.75v1.75h-1.75zM76.0 159.9h1.75v1.75h-1.75zM76.4 142.2h1.75v1.75h-1.75zM76.7 130.6h1.75v1.75h-1.75zM77.3 120.6h1.75v1.75h-1.75zM77.8 113.2h1.75v1.75h-1.75zM78.1 104.9h1.75v1.75h-1.75zM86.3 105.6h1.75v1.75h-1.75zM92.2 107.1h1.75v1.75h-1.75zM98.4 114.4h1.75v1.75h-1.75z" fill="#1c1c1c"/>
<path d="M83.1 116.5 L90.6 76.8 L98.1 94.5 L105.7 122.6" fill="none" stroke="#464646" stroke-width="0.62"/>
<path d="M82.2 115.6h1.75v1.75h-1.75zM89.7 75.9h1.75v1.75h-1.75zM97.3 93.6h1.75v1.75h-1.75zM104.8 121.7h1.75v1.75h-1.75z" fill="#1c1c1c"/>
<path d="M76.6 185.6 L77.3 154.1 L77.8 138.0 L78.5 104.5 L79.0 103.2 L79.3 91.8" fill="none" stroke="#464646" stroke-width="0.62"/>
<path d="M75.7 184.8h1.75v1.75h-1.75zM76.5 153.2h1.75v1.75h-1.75zM76.9 137.2h1.75v1.75h-1.75zM77.6 103.7h1.75v1.75h-1.75zM78.1 102.3h1.75v1.75h-1.75zM78.4 90.9h1.75v1.75h-1.75z" fill="#1c1c1c"/>
<path d="M76.7 160.1 L77.3 128.2 L77.8 105.0 L78.3 112.0 L78.8 97.4 L79.1 122.5 L81.9 78.6 L86.5 119.3 L90.0 112.4 L104.1 76.1 L111.0 99.3 L127.0 116.5 L141.8 124.2" fill="none" stroke="#464646" stroke-width="0.62"/>
<path d="M75.8 159.2h1.75v1.75h-1.75zM76.4 127.3h1.75v1.75h-1.75zM77.0 104.1h1.75v1.75h-1.75zM77.4 111.1h1.75v1.75h-1.75zM77.9 96.5h1.75v1.75h-1.75zM78.2 121.7h1.75v1.75h-1.75zM81.0 77.7h1.75v1.75h-1.75zM85.6 118.5h1.75v1.75h-1.75zM89.1 111.5h1.75v1.75h-1.75zM103.2 75.2h1.75v1.75h-1.75zM110.1 98.5h1.75v1.75h-1.75zM126.1 115.6h1.75v1.75h-1.75zM140.9 123.4h1.75v1.75h-1.75z" fill="#1c1c1c"/>
<path d="M76.8 168.9 L77.1 161.0 L77.6 150.4 L78.0 145.9 L78.3 131.9 L79.0 112.4 L79.4 106.4 L84.1 88.4 L92.1 122.1" fill="none" stroke="#464646" stroke-width="0.62"/>
<path d="M75.9 168.0h1.75v1.75h-1.75zM76.2 160.1h1.75v1.75h-1.75zM76.7 149.6h1.75v1.75h-1.75zM77.1 145.0h1.75v1.75h-1.75zM77.4 131.0h1.75v1.75h-1.75zM78.1 111.6h1.75v1.75h-1.75zM78.5 105.5h1.75v1.75h-1.75zM83.3 87.5h1.75v1.75h-1.75zM91.3 121.2h1.75v1.75h-1.75z" fill="#1c1c1c"/>
<path d="M76.4 186.4 L77.2 146.7 L77.7 127.0 L78.4 94.3 L79.1 90.1" fill="none" stroke="#464646" stroke-width="0.62"/>
<path d="M75.5 185.6h1.75v1.75h-1.75zM76.3 145.9h1.75v1.75h-1.75zM76.8 126.2h1.75v1.75h-1.75zM77.6 93.4h1.75v1.75h-1.75zM78.2 89.3h1.75v1.75h-1.75z" fill="#1c1c1c"/>
<path d="M76.5 164.5 L77.0 153.5 L77.8 131.9 L78.4 112.4 L78.7 103.4 L79.1 91.9" fill="none" stroke="#464646" stroke-width="0.62"/>
<path d="M75.7 163.6h1.75v1.75h-1.75zM76.1 152.6h1.75v1.75h-1.75zM76.9 131.1h1.75v1.75h-1.75zM77.5 111.5h1.75v1.75h-1.75zM77.9 102.5h1.75v1.75h-1.75zM78.3 91.1h1.75v1.75h-1.75z" fill="#1c1c1c"/>
<path d="M76.7 178.4 L77.0 171.4 L77.4 157.8 L78.1 126.5 L78.7 111.1 L79.2 95.4" fill="none" stroke="#464646" stroke-width="0.62"/>
<path d="M75.8 177.5h1.75v1.75h-1.75zM76.2 170.6h1.75v1.75h-1.75zM76.5 156.9h1.75v1.75h-1.75zM77.3 125.7h1.75v1.75h-1.75zM77.8 110.3h1.75v1.75h-1.75zM78.3 94.5h1.75v1.75h-1.75z" fill="#1c1c1c"/>
<path d="M88.6 109.8 L94.0 75.1 L105.8 106.4 L111.1 105.7 L118.5 102.8 L123.2 122.1 L133.7 94.9 L145.2 133.8" fill="none" stroke="#464646" stroke-width="0.62"/>
<path d="M87.7 108.9h1.75v1.75h-1.75zM93.1 74.2h1.75v1.75h-1.75zM105.0 105.5h1.75v1.75h-1.75zM110.2 104.8h1.75v1.75h-1.75zM117.6 101.9h1.75v1.75h-1.75zM122.3 121.2h1.75v1.75h-1.75zM132.8 94.1h1.75v1.75h-1.75zM144.3 132.9h1.75v1.75h-1.75z" fill="#1c1c1c"/>
<path d="M76.5 186.4 L76.9 174.0 L77.5 148.5 L78.1 126.9 L78.8 103.1 L79.3 104.5" fill="none" stroke="#464646" stroke-width="0.62"/>
<path d="M75.6 185.6h1.75v1.75h-1.75zM76.0 173.2h1.75v1.75h-1.75zM76.6 147.7h1.75v1.75h-1.75zM77.2 126.0h1.75v1.75h-1.75zM78.0 102.2h1.75v1.75h-1.75zM78.4 103.6h1.75v1.75h-1.75z" fill="#1c1c1c"/>
<path d="M76.7 157.5 L77.1 143.9 L77.5 132.6 L78.2 101.1" fill="none" stroke="#464646" stroke-width="0.62"/>
<path d="M75.8 156.6h1.75v1.75h-1.75zM76.2 143.0h1.75v1.75h-1.75zM76.6 131.8h1.75v1.75h-1.75zM77.3 100.2h1.75v1.75h-1.75z" fill="#1c1c1c"/>
<path d="M76.5 161.5 L76.9 147.7 L77.5 118.0 L78.3 101.8 L78.8 116.0" fill="none" stroke="#464646" stroke-width="0.62"/>
<path d="M75.7 160.6h1.75v1.75h-1.75zM76.0 146.8h1.75v1.75h-1.75zM76.6 117.1h1.75v1.75h-1.75zM77.4 101.0h1.75v1.75h-1.75zM77.9 115.1h1.75v1.75h-1.75z" fill="#1c1c1c"/>
<path d="M76.9 185.4 L77.5 166.0 L78.0 150.0 L78.6 135.2 L79.0 134.8 L84.7 83.3 L88.1 106.6 L105.2 102.2 L108.9 101.4 L114.6 89.4 L122.8 131.9 L131.4 120.4 L138.5 99.8 L143.8 117.1 L161.1 97.1" fill="none" stroke="#464646" stroke-width="0.62"/>
<path d="M76.0 184.5h1.75v1.75h-1.75zM76.6 165.2h1.75v1.75h-1.75zM77.2 149.1h1.75v1.75h-1.75zM77.7 134.3h1.75v1.75h-1.75zM78.1 133.9h1.75v1.75h-1.75zM83.8 82.4h1.75v1.75h-1.75zM87.2 105.8h1.75v1.75h-1.75zM104.4 101.3h1.75v1.75h-1.75zM108.1 100.5h1.75v1.75h-1.75zM113.7 88.5h1.75v1.75h-1.75zM121.9 131.1h1.75v1.75h-1.75zM130.5 119.5h1.75v1.75h-1.75zM137.6 98.9h1.75v1.75h-1.75zM142.9 116.3h1.75v1.75h-1.75zM160.3 96.2h1.75v1.75h-1.75z" fill="#1c1c1c"/>
<path d="M76.6 169.3 L77.3 145.9 L77.7 127.8 L78.3 108.0 L79.1 104.3 L88.3 109.9 L91.8 117.9 L105.5 113.2 L116.6 115.5 L121.7 85.7 L130.1 86.2 L137.4 84.2 L146.3 118.4 L153.3 121.2" fill="none" stroke="#464646" stroke-width="0.62"/>
<path d="M75.7 168.4h1.75v1.75h-1.75zM76.4 145.0h1.75v1.75h-1.75zM76.8 126.9h1.75v1.75h-1.75zM77.4 107.1h1.75v1.75h-1.75zM78.2 103.4h1.75v1.75h-1.75zM87.4 109.0h1.75v1.75h-1.75zM90.9 117.1h1.75v1.75h-1.75zM104.6 112.3h1.75v1.75h-1.75zM115.8 114.7h1.75v1.75h-1.75zM120.8 84.8h1.75v1.75h-1.75zM129.2 85.3h1.75v1.75h-1.75zM136.5 83.3h1.75v1.75h-1.75zM145.4 117.6h1.75v1.75h-1.75zM152.5 120.3h1.75v1.75h-1.75z" fill="#1c1c1c"/>
<path d="M76.6 179.6 L76.9 166.3 L77.4 150.9 L77.8 147.4 L78.1 139.9 L78.6 120.4 L79.0 125.8 L81.9 109.0 L84.9 79.3 L87.8 124.4 L93.3 90.2 L99.0 93.2 L108.5 121.3 L112.8 127.8 L118.4 87.3 L137.6 109.9 L143.1 111.4 L150.9 110.7" fill="none" stroke="#464646" stroke-width="0.62"/>
<path d="M75.7 178.7h1.75v1.75h-1.75zM76.1 165.4h1.75v1.75h-1.75zM76.6 150.0h1.75v1.75h-1.75zM76.9 146.6h1.75v1.75h-1.75zM77.2 139.1h1.75v1.75h-1.75zM77.8 119.5h1.75v1.75h-1.75zM78.1 124.9h1.75v1.75h-1.75zM81.0 108.1h1.75v1.75h-1.75zM84.0 78.5h1.75v1.75h-1.75zM87.0 123.6h1.75v1.75h-1.75zM92.4 89.3h1.75v1.75h-1.75zM98.1 92.3h1.75v1.75h-1.75zM107.6 120.4h1.75v1.75h-1.75zM111.9 126.9h1.75v1.75h-1.75zM117.5 86.5h1.75v1.75h-1.75zM136.7 109.0h1.75v1.75h-1.75zM142.2 110.6h1.75v1.75h-1.75zM150.0 109.8h1.75v1.75h-1.75z" fill="#1c1c1c"/>
<path d="M76.4 175.6 L77.2 156.2 L78.0 139.2 L78.5 121.0 L78.9 123.2 L88.2 79.9" fill="none" stroke="#464646" stroke-width="0.62"/>
<path d="M75.6 174.7h1.75v1.75h-1.75zM76.4 155.3h1.75v1.75h-1.75zM77.1 138.3h1.75v1.75h-1.75zM77.7 120.1h1.75v1.75h-1.75zM78.0 122.3h1.75v1.75h-1.75zM87.4 79.0h1.75v1.75h-1.75z" fill="#1c1c1c"/>
<path d="M76.6 159.4 L77.1 151.1 L77.8 122.0 L78.3 132.8 L79.0 141.6 L79.4 136.5 L82.7 99.6 L87.6 96.9 L91.0 115.4 L102.4 107.1 L112.5 79.9 L116.2 115.6 L119.7 106.9 L143.8 121.8 L150.8 128.2" fill="none" stroke="#464646" stroke-width="0.62"/>
<path d="M75.7 158.5h1.75v1.75h-1.75zM76.2 150.3h1.75v1.75h-1.75zM76.9 121.1h1.75v1.75h-1.75zM77.5 131.9h1.75v1.75h-1.75zM78.1 140.7h1.75v1.75h-1.75zM78.6 135.6h1.75v1.75h-1.75zM81.8 98.7h1.75v1.75h-1.75zM86.7 96.0h1.75v1.75h-1.75zM90.1 114.5h1.75v1.75h-1.75zM101.5 106.2h1.75v1.75h-1.75zM111.6 79.0h1.75v1.75h-1.75zM115.4 114.8h1.75v1.75h-1.75zM118.8 106.0h1.75v1.75h-1.75zM143.0 120.9h1.75v1.75h-1.75zM150.0 127.3h1.75v1.75h-1.75z" fill="#1c1c1c"/>
<path d="M76.6 163.6 L77.4 136.4 L78.0 124.1 L78.6 120.2 L79.1 110.6 L88.7 121.6 L95.8 102.9 L98.2 102.4 L109.7 113.2 L116.9 107.2 L122.9 101.2 L131.7 107.1 L146.2 82.6 L156.5 112.6" fill="none" stroke="#464646" stroke-width="0.62"/>
<path d="M75.8 162.7h1.75v1.75h-1.75zM76.5 135.5h1.75v1.75h-1.75zM77.1 123.2h1.75v1.75h-1.75zM77.7 119.3h1.75v1.75h-1.75zM78.2 109.7h1.75v1.75h-1.75zM87.9 120.7h1.75v1.75h-1.75zM95.0 102.0h1.75v1.75h-1.75zM97.3 101.5h1.75v1.75h-1.75zM108.8 112.3h1.75v1.75h-1.75zM116.0 106.3h1.75v1.75h-1.75zM122.0 100.4h1.75v1.75h-1.75zM130.8 106.3h1.75v1.75h-1.75zM145.4 81.7h1.75v1.75h-1.75zM155.6 111.7h1.75v1.75h-1.75z" fill="#1c1c1c"/>
<path d="M87.4 94.1 L90.0 124.6 L94.4 102.6 L97.0 131.8 L106.6 122.8 L113.6 112.2" fill="none" stroke="#464646" stroke-width="0.62"/>
<path d="M86.5 93.2h1.75v1.75h-1.75zM89.1 123.7h1.75v1.75h-1.75zM93.5 101.8h1.75v1.75h-1.75zM96.1 131.0h1.75v1.75h-1.75zM105.8 121.9h1.75v1.75h-1.75zM112.8 111.3h1.75v1.75h-1.75z" fill="#1c1c1c"/>
<path d="M321.9 394.4 L322.2 380.3 L322.6 373.0 L323.1 357.6 L323.4 351.9 L324.0 352.3 L324.4 341.3 L331.7 322.7 L346.1 332.9 L357.0 329.6 L370.4 322.2 L384.3 346.3 L390.2 348.4" fill="none" stroke="#464646" stroke-width="0.62"/>
<path d="M321.0 393.5h1.75v1.75h-1.75zM321.4 379.4h1.75v1.75h-1.75zM321.7 372.1h1.75v1.75h-1.75zM322.2 356.7h1.75v1.75h-1.75zM322.5 351.1h1.75v1.75h-1.75zM323.1 351.5h1.75v1.75h-1.75zM323.5 340.5h1.75v1.75h-1.75zM330.8 321.8h1.75v1.75h-1.75zM345.2 332.1h1.75v1.75h-1.75zM356.1 328.7h1.75v1.75h-1.75zM369.5 321.3h1.75v1.75h-1.75zM383.4 345.4h1.75v1.75h-1.75zM389.3 347.5h1.75v1.75h-1.75z" fill="#1c1c1c"/>
<path d="M321.6 402.7 L322.3 385.9 L322.6 375.6 L323.1 362.5 L323.7 346.6 L324.1 333.0 L324.7 334.8 L334.2 336.3 L342.7 326.7 L353.0 339.4 L366.7 344.0 L384.6 342.1" fill="none" stroke="#464646" stroke-width="0.62"/>
<path d="M320.7 401.8h1.75v1.75h-1.75zM321.4 385.1h1.75v1.75h-1.75zM321.8 374.7h1.75v1.75h-1.75zM322.2 361.7h1.75v1.75h-1.75zM322.8 345.7h1.75v1.75h-1.75zM323.2 332.1h1.75v1.75h-1.75zM323.8 333.9h1.75v1.75h-1.75zM333.4 335.4h1.75v1.75h-1.75zM341.8 325.9h1.75v1.75h-1.75zM352.1 338.5h1.75v1.75h-1.75zM365.8 343.2h1.75v1.75h-1.75zM383.7 341.2h1.75v1.75h-1.75z" fill="#1c1c1c"/>
<path d="M322.1 408.0 L322.6 391.3 L323.2 367.1 L323.7 347.1 L324.2 339.8 L324.8 335.1 L330.4 315.2 L338.7 326.2 L354.0 324.6 L359.9 363.9 L367.3 322.4 L377.5 350.7 L393.2 359.7 L398.9 355.3" fill="none" stroke="#464646" stroke-width="0.62"/>
<path d="M321.3 407.2h1.75v1.75h-1.75zM321.7 390.4h1.75v1.75h-1.75zM322.3 366.2h1.75v1.75h-1.75zM322.8 346.2h1.75v1.75h-1.75zM323.3 338.9h1.75v1.75h-1.75zM323.9 334.2h1.75v1.75h-1.75zM329.6 314.3h1.75v1.75h-1.75zM337.8 325.4h1.75v1.75h-1.75zM353.1 323.7h1.75v1.75h-1.75zM359.0 363.0h1.75v1.75h-1.75zM366.4 321.5h1.75v1.75h-1.75zM376.6 349.8h1.75v1.75h-1.75zM392.3 358.8h1.75v1.75h-1.75zM398.0 354.4h1.75v1.75h-1.75z" fill="#1c1c1c"/>
<path d="M321.6 376.6 L321.9 365.7 L322.5 340.3 L322.9 327.1 L323.2 323.6 L323.9 324.7 L324.5 338.6" fill="none" stroke="#464646" stroke-width="0.62"/>
<path d="M320.8 375.7h1.75v1.75h-1.75zM321.0 364.8h1.75v1.75h-1.75zM321.6 339.5h1.75v1.75h-1.75zM322.0 326.2h1.75v1.75h-1.75zM322.3 322.7h1.75v1.75h-1.75zM323.0 323.8h1.75v1.75h-1.75zM323.6 337.7h1.75v1.75h-1.75z" fill="#1c1c1c"/>
<path d="M322.0 379.6 L322.3 367.0 L322.9 351.4 L323.5 361.7" fill="none" stroke="#464646" stroke-width="0.62"/>
<path d="M321.2 378.7h1.75v1.75h-1.75zM321.5 366.1h1.75v1.75h-1.75zM322.1 350.6h1.75v1.75h-1.75zM322.6 360.8h1.75v1.75h-1.75z" fill="#1c1c1c"/>
<path d="M322.2 387.8 L322.6 371.0 L323.3 340.6 L323.9 332.1 L324.4 331.1 L327.7 334.6 L336.1 317.8 L348.8 345.0" fill="none" stroke="#464646" stroke-width="0.62"/>
<path d="M321.3 387.0h1.75v1.75h-1.75zM321.8 370.2h1.75v1.75h-1.75zM322.4 339.7h1.75v1.75h-1.75zM323.1 331.2h1.75v1.75h-1.75zM323.5 330.2h1.75v1.75h-1.75zM326.8 333.8h1.75v1.75h-1.75zM335.3 316.9h1.75v1.75h-1.75zM347.9 344.1h1.75v1.75h-1.75z" fill="#1c1c1c"/>
<path d="M322.2 415.5 L322.8 394.6 L323.2 372.9 L323.7 357.9 L324.2 349.4 L324.6 360.6 L335.0 341.1 L347.3 339.8 L360.2 357.4" fill="none" stroke="#464646" stroke-width="0.62"/>
<path d="M321.3 414.6h1.75v1.75h-1.75zM321.9 393.7h1.75v1.75h-1.75zM322.4 372.0h1.75v1.75h-1.75zM322.9 357.0h1.75v1.75h-1.75zM323.3 348.5h1.75v1.75h-1.75zM323.7 359.7h1.75v1.75h-1.75zM334.1 340.3h1.75v1.75h-1.75zM346.4 338.9h1.75v1.75h-1.75zM359.4 356.5h1.75v1.75h-1.75z" fill="#1c1c1c"/>
<path d="M321.8 401.2 L322.5 366.1 L322.9 364.9 L323.6 359.5 L324.3 356.5" fill="none" stroke="#464646" stroke-width="0.62"/>
<path d="M320.9 400.3h1.75v1.75h-1.75zM321.7 365.2h1.75v1.75h-1.75zM322.0 364.0h1.75v1.75h-1.75zM322.7 358.6h1.75v1.75h-1.75zM323.4 355.7h1.75v1.75h-1.75z" fill="#1c1c1c"/>
<path d="M322.1 397.6 L322.6 382.6 L323.1 361.2 L323.5 361.2 L324.1 347.5 L324.4 348.8 L324.8 356.5" fill="none" stroke="#464646" stroke-width="0.62"/>
<path d="M321.2 396.7h1.75v1.75h-1.75zM321.7 381.7h1.75v1.75h-1.75zM322.3 360.3h1.75v1.75h-1.75zM322.6 360.3h1.75v1.75h-1.75zM323.2 346.7h1.75v1.75h-1.75zM323.5 347.9h1.75v1.75h-1.75zM324.0 355.6h1.75v1.75h-1.75z" fill="#1c1c1c"/>
<path d="M321.8 396.8 L322.5 367.2 L323.1 348.7 L323.6 333.9 L324.0 353.4 L324.5 345.0 L328.9 331.0 L334.0 347.2 L345.7 317.6 L352.6 356.9 L361.8 339.4 L373.1 335.0 L377.1 330.6 L386.2 349.8" fill="none" stroke="#464646" stroke-width="0.62"/>
<path d="M320.9 395.9h1.75v1.75h-1.75zM321.6 366.4h1.75v1.75h-1.75zM322.2 347.8h1.75v1.75h-1.75zM322.7 333.0h1.75v1.75h-1.75zM323.1 352.6h1.75v1.75h-1.75zM323.6 344.1h1.75v1.75h-1.75zM328.0 330.1h1.75v1.75h-1.75zM333.2 346.3h1.75v1.75h-1.75zM344.8 316.7h1.75v1.75h-1.75zM351.8 356.0h1.75v1.75h-1.75zM360.9 338.5h1.75v1.75h-1.75zM372.3 334.2h1.75v1.75h-1.75zM376.3 329.7h1.75v1.75h-1.75zM385.3 348.9h1.75v1.75h-1.75z" fill="#1c1c1c"/>
<path d="M321.9 393.4 L322.5 372.7 L323.2 358.5 L323.5 352.8 L324.1 354.5" fill="none" stroke="#464646" stroke-width="0.62"/>
<path d="M321.0 392.5h1.75v1.75h-1.75zM321.6 371.8h1.75v1.75h-1.75zM322.3 357.6h1.75v1.75h-1.75zM322.6 351.9h1.75v1.75h-1.75zM323.2 353.7h1.75v1.75h-1.75z" fill="#1c1c1c"/>
<path d="M321.9 408.8 L322.6 383.9 L322.9 368.0 L323.2 354.4 L323.6 344.6 L324.0 348.8 L324.7 352.4 L333.4 341.3 L347.1 338.5" fill="none" stroke="#464646" stroke-width="0.62"/>
<path d="M321.0 408.0h1.75v1.75h-1.75zM321.7 383.0h1.75v1.75h-1.75zM322.0 367.1h1.75v1.75h-1.75zM322.3 353.5h1.75v1.75h-1.75zM322.7 343.7h1.75v1.75h-1.75zM323.1 347.9h1.75v1.75h-1.75zM323.8 351.5h1.75v1.75h-1.75zM332.5 340.4h1.75v1.75h-1.75zM346.2 337.6h1.75v1.75h-1.75z" fill="#1c1c1c"/>
<path d="M322.2 383.7 L322.5 363.7 L323.1 342.8 L323.6 360.0 L324.1 350.8 L324.6 352.0 L324.9 352.7" fill="none" stroke="#464646" stroke-width="0.62"/>
<path d="M321.3 382.9h1.75v1.75h-1.75zM321.7 362.9h1.75v1.75h-1.75zM322.2 341.9h1.75v1.75h-1.75zM322.8 359.1h1.75v1.75h-1.75zM323.2 349.9h1.75v1.75h-1.75zM323.7 351.1h1.75v1.75h-1.75zM324.0 351.8h1.75v1.75h-1.75z" fill="#1c1c1c"/>
<path d="M321.9 408.9 L322.6 383.3 L323.2 363.4 L323.9 338.1 L324.7 335.5 L329.0 358.8 L334.6 328.6 L345.7 316.5 L357.9 361.4 L361.2 353.7 L364.8 329.5 L371.0 351.1 L377.2 351.6" fill="none" stroke="#464646" stroke-width="0.62"/>
<path d="M321.0 408.1h1.75v1.75h-1.75zM321.8 382.4h1.75v1.75h-1.75zM322.3 362.5h1.75v1.75h-1.75zM323.1 337.2h1.75v1.75h-1.75zM323.8 334.6h1.75v1.75h-1.75zM328.1 357.9h1.75v1.75h-1.75zM333.8 327.7h1.75v1.75h-1.75zM344.8 315.6h1.75v1.75h-1.75zM357.0 360.5h1.75v1.75h-1.75zM360.3 352.8h1.75v1.75h-1.75zM364.0 328.6h1.75v1.75h-1.75zM370.1 350.2h1.75v1.75h-1.75zM376.4 350.7h1.75v1.75h-1.75z" fill="#1c1c1c"/>
<path d="M321.8 412.7 L322.0 401.4 L322.6 373.1 L323.1 353.8 L323.4 358.4 L324.0 350.9 L324.3 354.1 L324.7 351.1 L328.4 319.5 L336.3 334.9 L342.2 318.4 L346.2 338.6 L353.1 345.0 L358.5 333.2 L363.7 350.0 L368.8 346.2 L375.1 333.3 L386.0 342.8 L410.2 355.6" fill="none" stroke="#464646" stroke-width="0.62"/>
<path d="M320.9 411.9h1.75v1.75h-1.75zM321.2 400.5h1.75v1.75h-1.75zM321.8 372.3h1.75v1.75h-1.75zM322.2 352.9h1.75v1.75h-1.75zM322.5 357.5h1.75v1.75h-1.75zM323.1 350.0h1.75v1.75h-1.75zM323.4 353.2h1.75v1.75h-1.75zM323.8 350.2h1.75v1.75h-1.75zM327.5 318.6h1.75v1.75h-1.75zM335.4 334.1h1.75v1.75h-1.75zM341.3 317.5h1.75v1.75h-1.75zM345.3 337.7h1.75v1.75h-1.75zM352.3 344.2h1.75v1.75h-1.75zM357.6 332.4h1.75v1.75h-1.75zM362.8 349.1h1.75v1.75h-1.75zM367.9 345.3h1.75v1.75h-1.75zM374.2 332.4h1.75v1.75h-1.75zM385.1 341.9h1.75v1.75h-1.75zM409.3 354.7h1.75v1.75h-1.75z" fill="#1c1c1c"/>
<path d="M321.8 399.4 L322.2 381.4 L322.5 366.9 L322.9 348.6 L323.6 342.9 L324.2 345.9 L324.4 346.3 L330.2 356.7 L333.4 332.3 L344.1 312.2 L357.4 355.8 L363.6 369.3 L367.4 350.6 L377.9 359.1 L390.4 371.9" fill="none" stroke="#464646" stroke-width="0.62"/>
<path d="M321.0 398.6h1.75v1.75h-1.75zM321.4 380.5h1.75v1.75h-1.75zM321.7 366.0h1.75v1.75h-1.75zM322.1 347.7h1.75v1.75h-1.75zM322.8 342.0h1.75v1.75h-1.75zM323.3 345.0h1.75v1.75h-1.75zM323.6 345.4h1.75v1.75h-1.75zM329.3 355.8h1.75v1.75h-1.75zM332.5 331.4h1.75v1.75h-1.75zM343.2 311.3h1.75v1.75h-1.75zM356.5 355.0h1.75v1.75h-1.75zM362.7 368.4h1.75v1.75h-1.75zM366.5 349.7h1.75v1.75h-1.75zM377.0 358.2h1.75v1.75h-1.75zM389.5 371.1h1.75v1.75h-1.75z" fill="#1c1c1c"/>
<path d="M321.8 402.2 L322.1 384.9 L322.7 366.4 L323.2 337.2 L323.7 324.7 L324.1 332.4 L324.6 331.2" fill="none" stroke="#464646" stroke-width="0.62"/>
<path d="M320.9 401.3h1.75v1.75h-1.75zM321.2 384.0h1.75v1.75h-1.75zM321.8 365.5h1.75v1.75h-1.75zM322.3 336.3h1.75v1.75h-1.75zM322.8 323.8h1.75v1.75h-1.75zM323.3 331.5h1.75v1.75h-1.75zM323.7 330.3h1.75v1.75h-1.75z" fill="#1c1c1c"/>
<path d="M321.7 405.6 L322.0 392.0 L322.6 370.5 L323.3 368.5 L323.9 364.7" fill="none" stroke="#464646" stroke-width="0.62"/>
<path d="M320.9 404.7h1.75v1.75h-1.75zM321.2 391.2h1.75v1.75h-1.75zM321.7 369.6h1.75v1.75h-1.75zM322.4 367.6h1.75v1.75h-1.75zM323.0 363.9h1.75v1.75h-1.75z" fill="#1c1c1c"/>
<path d="M322.1 411.2 L322.4 397.6 L322.9 387.0 L323.3 376.6 L324.0 353.8 L324.6 349.2 L327.5 322.9 L330.2 328.4 L336.8 327.1 L341.9 329.5 L349.3 347.3 L358.3 331.5 L363.5 349.4 L377.2 367.3 L385.2 340.7" fill="none" stroke="#464646" stroke-width="0.62"/>
<path d="M321.2 410.4h1.75v1.75h-1.75zM321.6 396.8h1.75v1.75h-1.75zM322.0 386.1h1.75v1.75h-1.75zM322.4 375.7h1.75v1.75h-1.75zM323.1 352.9h1.75v1.75h-1.75zM323.7 348.3h1.75v1.75h-1.75zM326.7 322.1h1.75v1.75h-1.75zM329.4 327.5h1.75v1.75h-1.75zM336.0 326.2h1.75v1.75h-1.75zM341.0 328.7h1.75v1.75h-1.75zM348.5 346.4h1.75v1.75h-1.75zM357.5 330.7h1.75v1.75h-1.75zM362.6 348.5h1.75v1.75h-1.75zM376.3 366.4h1.75v1.75h-1.75zM384.4 339.8h1.75v1.75h-1.75z" fill="#1c1c1c"/>
<path d="M329.3 347.0 L341.0 322.0 L344.8 334.8 L355.3 338.9 L363.9 355.7 L375.5 341.0" fill="none" stroke="#464646" stroke-width="0.62"/>
<path d="M328.4 346.1h1.75v1.75h-1.75zM340.1 321.1h1.75v1.75h-1.75zM343.9 334.0h1.75v1.75h-1.75zM354.5 338.1h1.75v1.75h-1.75zM363.0 354.9h1.75v1.75h-1.75zM374.7 340.1h1.75v1.75h-1.75z" fill="#1c1c1c"/>
<path d="M321.9 415.3 L322.6 401.3 L323.3 382.0 L323.8 359.7 L324.5 337.6 L328.5 336.9 L335.9 355.7 L341.0 359.7" fill="none" stroke="#464646" stroke-width="0.62"/>
<path d="M321.1 414.4h1.75v1.75h-1.75zM321.7 400.4h1.75v1.75h-1.75zM322.4 381.1h1.75v1.75h-1.75zM323.0 358.8h1.75v1.75h-1.75zM323.6 336.7h1.75v1.75h-1.75zM327.6 336.0h1.75v1.75h-1.75zM335.0 354.8h1.75v1.75h-1.75zM340.2 358.8h1.75v1.75h-1.75z" fill="#1c1c1c"/>
<path d="M322.1 393.9 L322.4 386.8 L323.0 363.3 L323.7 342.2 L324.3 354.8 L324.8 359.3 L330.8 341.7 L341.8 343.6 L347.9 331.6" fill="none" stroke="#464646" stroke-width="0.62"/>
<path d="M321.2 393.0h1.75v1.75h-1.75zM321.6 385.9h1.75v1.75h-1.75zM322.2 362.5h1.75v1.75h-1.75zM322.8 341.4h1.75v1.75h-1.75zM323.4 353.9h1.75v1.75h-1.75zM323.9 358.4h1.75v1.75h-1.75zM330.0 340.8h1.75v1.75h-1.75zM340.9 342.7h1.75v1.75h-1.75zM347.0 330.8h1.75v1.75h-1.75z" fill="#1c1c1c"/>
<path d="" fill="#1c1c1c"/>
<path d="M321.9 397.6 L322.5 369.7 L323.2 342.9 L323.8 334.3 L324.4 341.1 L324.7 337.5" fill="none" stroke="#464646" stroke-width="0.62"/>
<path d="M321.0 396.7h1.75v1.75h-1.75zM321.7 368.8h1.75v1.75h-1.75zM322.4 342.0h1.75v1.75h-1.75zM323.0 333.4h1.75v1.75h-1.75zM323.5 340.2h1.75v1.75h-1.75zM323.8 336.6h1.75v1.75h-1.75z" fill="#1c1c1c"/>
<path d="M321.9 411.0 L322.3 398.1 L323.0 378.5 L323.6 357.8 L324.1 341.6 L324.6 335.1" fill="none" stroke="#464646" stroke-width="0.62"/>
<path d="M321.0 410.2h1.75v1.75h-1.75zM321.5 397.3h1.75v1.75h-1.75zM322.1 377.6h1.75v1.75h-1.75zM322.7 356.9h1.75v1.75h-1.75zM323.2 340.7h1.75v1.75h-1.75zM323.7 334.2h1.75v1.75h-1.75z" fill="#1c1c1c"/>
<path d="M329.7 332.2 L343.5 339.0 L358.4 327.4 L361.7 360.1 L368.9 343.8 L391.9 349.1" fill="none" stroke="#464646" stroke-width="0.62"/>
<path d="M328.8 331.4h1.75v1.75h-1.75zM342.6 338.2h1.75v1.75h-1.75zM357.6 326.6h1.75v1.75h-1.75zM360.8 359.2h1.75v1.75h-1.75zM368.0 342.9h1.75v1.75h-1.75zM391.0 348.2h1.75v1.75h-1.75z" fill="#1c1c1c"/>
<path d="M321.9 402.6 L322.3 390.5 L323.0 374.0 L323.7 356.7 L324.3 333.1 L327.6 331.6" fill="none" stroke="#464646" stroke-width="0.62"/>
<path d="M321.0 401.8h1.75v1.75h-1.75zM321.5 389.6h1.75v1.75h-1.75zM322.1 373.2h1.75v1.75h-1.75zM322.8 355.8h1.75v1.75h-1.75zM323.4 332.2h1.75v1.75h-1.75zM326.7 330.7h1.75v1.75h-1.75z" fill="#1c1c1c"/>
<path d="M321.6 390.2 L321.9 377.0 L322.6 346.5 L323.2 342.1 L323.9 326.6 L324.6 330.9 L329.4 346.5 L334.8 341.8 L345.5 322.3 L349.0 338.7 L357.6 323.5 L375.0 341.3 L389.1 348.1" fill="none" stroke="#464646" stroke-width="0.62"/>
<path d="M320.8 389.3h1.75v1.75h-1.75zM321.1 376.1h1.75v1.75h-1.75zM321.7 345.7h1.75v1.75h-1.75zM322.3 341.3h1.75v1.75h-1.75zM323.0 325.7h1.75v1.75h-1.75zM323.7 330.0h1.75v1.75h-1.75zM328.5 345.6h1.75v1.75h-1.75zM334.0 340.9h1.75v1.75h-1.75zM344.6 321.4h1.75v1.75h-1.75zM348.1 337.8h1.75v1.75h-1.75zM356.8 322.6h1.75v1.75h-1.75zM374.1 340.4h1.75v1.75h-1.75zM388.3 347.2h1.75v1.75h-1.75z" fill="#1c1c1c"/>
<path d="M322.1 406.4 L322.8 387.5 L323.3 372.8 L324.0 352.0 L324.7 342.5 L333.0 345.4 L341.2 332.4 L344.9 352.1 L347.9 359.1 L352.8 336.2 L366.2 339.9 L379.3 347.0" fill="none" stroke="#464646" stroke-width="0.62"/>
<path d="M321.2 405.5h1.75v1.75h-1.75zM321.9 386.6h1.75v1.75h-1.75zM322.5 371.9h1.75v1.75h-1.75zM323.1 351.1h1.75v1.75h-1.75zM323.9 341.6h1.75v1.75h-1.75zM332.2 344.6h1.75v1.75h-1.75zM340.3 331.5h1.75v1.75h-1.75zM344.0 351.2h1.75v1.75h-1.75zM347.0 358.3h1.75v1.75h-1.75zM351.9 335.4h1.75v1.75h-1.75zM365.4 339.0h1.75v1.75h-1.75zM378.4 346.1h1.75v1.75h-1.75z" fill="#1c1c1c"/>
<path d="M322.0 415.5 L322.4 405.4 L322.9 394.7 L323.5 375.9 L324.1 365.4 L324.6 364.8 L332.1 328.2 L338.9 353.5 L345.2 352.0 L349.5 334.8 L355.3 345.3 L358.8 341.9 L362.4 372.7 L381.6 376.2 L399.6 332.7" fill="none" stroke="#464646" stroke-width="0.62"/>
<path d="M321.1 414.6h1.75v1.75h-1.75zM321.5 404.5h1.75v1.75h-1.75zM322.0 393.8h1.75v1.75h-1.75zM322.6 375.1h1.75v1.75h-1.75zM323.2 364.6h1.75v1.75h-1.75zM323.7 363.9h1.75v1.75h-1.75zM331.2 327.4h1.75v1.75h-1.75zM338.1 352.6h1.75v1.75h-1.75zM344.3 351.2h1.75v1.75h-1.75zM348.6 333.9h1.75v1.75h-1.75zM354.4 344.4h1.75v1.75h-1.75zM358.0 341.0h1.75v1.75h-1.75zM361.5 371.8h1.75v1.75h-1.75zM380.7 375.3h1.75v1.75h-1.75zM398.7 331.8h1.75v1.75h-1.75z" fill="#1c1c1c"/>
<path d="M321.8 410.9 L322.1 389.8 L322.5 368.2 L323.0 342.4 L323.3 334.1 L323.8 325.5 L324.3 334.1 L324.9 331.9 L332.7 342.4 L344.4 342.8" fill="none" stroke="#464646" stroke-width="0.62"/>
<path d="M320.9 410.0h1.75v1.75h-1.75zM321.2 389.0h1.75v1.75h-1.75zM321.6 367.3h1.75v1.75h-1.75zM322.2 341.6h1.75v1.75h-1.75zM322.5 333.2h1.75v1.75h-1.75zM322.9 324.6h1.75v1.75h-1.75zM323.4 333.2h1.75v1.75h-1.75zM324.0 331.0h1.75v1.75h-1.75zM331.8 341.5h1.75v1.75h-1.75zM343.5 341.9h1.75v1.75h-1.75z" fill="#1c1c1c"/>
<path d="M322.0 391.3 L322.3 378.2 L322.8 356.3 L323.4 353.2 L324.0 347.6 L324.3 352.7 L324.6 343.1 L328.7 352.6 L333.8 324.6" fill="none" stroke="#464646" stroke-width="0.62"/>
<path d="M321.1 390.4h1.75v1.75h-1.75zM321.5 377.3h1.75v1.75h-1.75zM322.0 355.4h1.75v1.75h-1.75zM322.6 352.3h1.75v1.75h-1.75zM323.2 346.7h1.75v1.75h-1.75zM323.5 351.8h1.75v1.75h-1.75zM323.7 342.3h1.75v1.75h-1.75zM327.8 351.7h1.75v1.75h-1.75zM333.0 323.7h1.75v1.75h-1.75z" fill="#1c1c1c"/>
<path d="M321.6 399.9 L322.1 379.6 L322.6 369.0 L323.4 370.2 L324.0 357.2 L324.6 365.0 L328.8 326.3 L335.9 366.8 L344.2 322.9 L347.9 347.4 L352.3 352.1 L355.2 346.6 L365.6 367.7 L376.7 317.0 L386.4 331.3 L402.5 358.2" fill="none" stroke="#464646" stroke-width="0.62"/>
<path d="M320.7 399.0h1.75v1.75h-1.75zM321.2 378.8h1.75v1.75h-1.75zM321.8 368.1h1.75v1.75h-1.75zM322.5 369.3h1.75v1.75h-1.75zM323.1 356.3h1.75v1.75h-1.75zM323.7 364.1h1.75v1.75h-1.75zM328.0 325.4h1.75v1.75h-1.75zM335.0 366.0h1.75v1.75h-1.75zM343.3 322.0h1.75v1.75h-1.75zM347.0 346.5h1.75v1.75h-1.75zM351.4 351.2h1.75v1.75h-1.75zM354.3 345.7h1.75v1.75h-1.75zM364.7 366.9h1.75v1.75h-1.75zM375.8 316.2h1.75v1.75h-1.75zM385.5 330.4h1.75v1.75h-1.75zM401.6 357.3h1.75v1.75h-1.75z" fill="#1c1c1c"/>
<path d="M330.5 350.2 L339.6 337.8 L349.2 320.5 L353.8 331.4 L358.7 352.1 L373.5 345.7 L389.6 352.1" fill="none" stroke="#464646" stroke-width="0.62"/>
<path d="M329.6 349.4h1.75v1.75h-1.75zM338.8 336.9h1.75v1.75h-1.75zM348.3 319.6h1.75v1.75h-1.75zM352.9 330.5h1.75v1.75h-1.75zM357.8 351.2h1.75v1.75h-1.75zM372.6 344.8h1.75v1.75h-1.75zM388.7 351.2h1.75v1.75h-1.75z" fill="#1c1c1c"/>
<path d="M329.7 333.8 L338.7 322.1 L349.1 337.3 L353.6 338.7 L358.1 346.1 L366.9 357.1" fill="none" stroke="#464646" stroke-width="0.62"/>
<path d="M328.8 332.9h1.75v1.75h-1.75zM337.8 321.2h1.75v1.75h-1.75zM348.3 336.4h1.75v1.75h-1.75zM352.7 337.9h1.75v1.75h-1.75zM357.2 345.2h1.75v1.75h-1.75zM366.0 356.2h1.75v1.75h-1.75z" fill="#1c1c1c"/>
<path d="M322.0 412.4 L322.7 380.2 L323.4 346.6 L323.9 350.9 L324.6 347.5 L324.9 353.7 L333.5 327.3" fill="none" stroke="#464646" stroke-width="0.62"/>
<path d="M321.1 411.5h1.75v1.75h-1.75zM321.8 379.3h1.75v1.75h-1.75zM322.5 345.7h1.75v1.75h-1.75zM323.0 350.0h1.75v1.75h-1.75zM323.8 346.6h1.75v1.75h-1.75zM324.0 352.8h1.75v1.75h-1.75zM332.6 326.5h1.75v1.75h-1.75z" fill="#1c1c1c"/>
<path d="M321.8 394.6 L322.4 370.4 L322.8 356.6 L323.3 366.9 L323.9 367.6 L324.3 371.5 L324.6 365.5 L324.9 369.5 L330.6 338.5 L338.3 319.3 L345.0 344.5 L349.5 358.3 L352.6 330.9 L355.7 351.7 L360.9 349.5 L371.4 320.1" fill="none" stroke="#464646" stroke-width="0.62"/>
<path d="M320.9 393.8h1.75v1.75h-1.75zM321.6 369.6h1.75v1.75h-1.75zM321.9 355.7h1.75v1.75h-1.75zM322.4 366.0h1.75v1.75h-1.75zM323.0 366.7h1.75v1.75h-1.75zM323.4 370.7h1.75v1.75h-1.75zM323.8 364.6h1.75v1.75h-1.75zM324.0 368.6h1.75v1.75h-1.75zM329.7 337.6h1.75v1.75h-1.75zM337.4 318.4h1.75v1.75h-1.75zM344.1 343.6h1.75v1.75h-1.75zM348.6 357.4h1.75v1.75h-1.75zM351.8 330.0h1.75v1.75h-1.75zM354.8 350.8h1.75v1.75h-1.75zM360.1 348.6h1.75v1.75h-1.75zM370.6 319.3h1.75v1.75h-1.75z" fill="#1c1c1c"/>
<path d="M334.9 310.7 L353.1 339.5 L366.1 343.1" fill="none" stroke="#464646" stroke-width="0.62"/>
<path d="M334.0 309.8h1.75v1.75h-1.75zM352.2 338.6h1.75v1.75h-1.75zM365.3 342.2h1.75v1.75h-1.75z" fill="#1c1c1c"/>
<path d="M321.9 399.2 L322.3 385.5 L323.0 355.1 L323.7 346.8 L324.2 344.2 L324.8 345.1 L328.8 319.4 L333.9 342.9 L340.0 349.8 L345.6 353.0 L354.3 353.3 L359.1 345.2 L362.6 365.4 L371.6 323.2 L386.3 361.1" fill="none" stroke="#464646" stroke-width="0.62"/>
<path d="M321.0 398.3h1.75v1.75h-1.75zM321.4 384.6h1.75v1.75h-1.75zM322.1 354.3h1.75v1.75h-1.75zM322.8 345.9h1.75v1.75h-1.75zM323.4 343.3h1.75v1.75h-1.75zM323.9 344.3h1.75v1.75h-1.75zM327.9 318.5h1.75v1.75h-1.75zM333.0 342.0h1.75v1.75h-1.75zM339.1 348.9h1.75v1.75h-1.75zM344.7 352.1h1.75v1.75h-1.75zM353.4 352.4h1.75v1.75h-1.75zM358.3 344.3h1.75v1.75h-1.75zM361.7 364.5h1.75v1.75h-1.75zM370.7 322.3h1.75v1.75h-1.75zM385.4 360.2h1.75v1.75h-1.75z" fill="#1c1c1c"/>
<path d="M321.7 393.1 L322.3 360.6 L322.6 340.7 L322.9 340.3 L323.2 345.1 L323.9 333.1 L324.6 345.7" fill="none" stroke="#464646" stroke-width="0.62"/>
<path d="M320.8 392.2h1.75v1.75h-1.75zM321.4 359.7h1.75v1.75h-1.75zM321.7 339.9h1.75v1.75h-1.75zM322.0 339.4h1.75v1.75h-1.75zM322.3 344.3h1.75v1.75h-1.75zM323.0 332.2h1.75v1.75h-1.75zM323.7 344.8h1.75v1.75h-1.75z" fill="#1c1c1c"/>
<path d="M330.4 326.7 L337.0 334.1 L341.6 353.6 L347.9 344.7" fill="none" stroke="#464646" stroke-width="0.62"/>
<path d="M329.5 325.8h1.75v1.75h-1.75zM336.1 333.3h1.75v1.75h-1.75zM340.7 352.7h1.75v1.75h-1.75zM347.1 343.9h1.75v1.75h-1.75z" fill="#1c1c1c"/>
<path d="M321.6 415.5 L322.1 402.1 L322.8 378.2 L323.4 369.3 L323.7 362.7 L324.3 370.1 L324.8 362.4 L330.7 338.5 L335.6 334.7 L341.6 352.5 L348.9 334.0 L361.8 341.5 L372.8 354.9" fill="none" stroke="#464646" stroke-width="0.62"/>
<path d="M320.7 414.6h1.75v1.75h-1.75zM321.2 401.2h1.75v1.75h-1.75zM322.0 377.3h1.75v1.75h-1.75zM322.5 368.5h1.75v1.75h-1.75zM322.8 361.8h1.75v1.75h-1.75zM323.4 369.3h1.75v1.75h-1.75zM323.9 361.5h1.75v1.75h-1.75zM329.8 337.6h1.75v1.75h-1.75zM334.7 333.8h1.75v1.75h-1.75zM340.7 351.6h1.75v1.75h-1.75zM348.1 333.2h1.75v1.75h-1.75zM360.9 340.6h1.75v1.75h-1.75zM371.9 354.0h1.75v1.75h-1.75z" fill="#1c1c1c"/>
<path d="M321.8 384.8 L322.6 350.8 L323.1 340.1 L323.6 331.9 L324.0 325.8 L324.4 342.3 L324.9 326.6 L328.2 337.7 L336.3 309.9 L348.7 339.4 L365.4 321.0 L370.6 334.1 L390.3 349.2 L402.4 360.0" fill="none" stroke="#464646" stroke-width="0.62"/>
<path d="M321.0 384.0h1.75v1.75h-1.75zM321.7 349.9h1.75v1.75h-1.75zM322.2 339.2h1.75v1.75h-1.75zM322.8 331.0h1.75v1.75h-1.75zM323.1 325.0h1.75v1.75h-1.75zM323.5 341.5h1.75v1.75h-1.75zM324.0 325.7h1.75v1.75h-1.75zM327.3 336.8h1.75v1.75h-1.75zM335.4 309.0h1.75v1.75h-1.75zM347.8 338.5h1.75v1.75h-1.75zM364.5 320.2h1.75v1.75h-1.75zM369.7 333.3h1.75v1.75h-1.75zM389.4 348.3h1.75v1.75h-1.75zM401.5 359.1h1.75v1.75h-1.75z" fill="#1c1c1c"/>
<path d="M321.9 410.5 L322.4 396.8 L323.0 376.6 L323.4 366.0 L323.9 347.9 L324.2 341.5 L324.6 331.9 L327.2 318.5 L340.2 347.2 L355.3 319.4 L371.8 366.9 L376.9 343.8 L380.8 329.9" fill="none" stroke="#464646" stroke-width="0.62"/>
<path d="M321.0 409.6h1.75v1.75h-1.75zM321.5 395.9h1.75v1.75h-1.75zM322.1 375.7h1.75v1.75h-1.75zM322.5 365.1h1.75v1.75h-1.75zM323.0 347.0h1.75v1.75h-1.75zM323.3 340.6h1.75v1.75h-1.75zM323.8 331.0h1.75v1.75h-1.75zM326.3 317.6h1.75v1.75h-1.75zM339.3 346.3h1.75v1.75h-1.75zM354.4 318.5h1.75v1.75h-1.75zM370.9 366.0h1.75v1.75h-1.75zM376.0 342.9h1.75v1.75h-1.75zM379.9 329.0h1.75v1.75h-1.75z" fill="#1c1c1c"/>
<path d="M321.6 413.7 L322.4 391.1 L322.9 365.5 L323.4 353.3 L324.0 353.1 L324.5 353.9 L324.9 350.9 L328.7 347.7 L333.8 337.5 L339.4 327.2 L357.8 344.3 L374.7 348.0 L389.6 344.7" fill="none" stroke="#464646" stroke-width="0.62"/>
<path d="M320.8 412.8h1.75v1.75h-1.75zM321.5 390.2h1.75v1.75h-1.75zM322.1 364.7h1.75v1.75h-1.75zM322.5 352.4h1.75v1.75h-1.75zM323.1 352.2h1.75v1.75h-1.75zM323.6 353.0h1.75v1.75h-1.75zM324.0 350.1h1.75v1.75h-1.75zM327.9 346.8h1.75v1.75h-1.75zM332.9 336.7h1.75v1.75h-1.75zM338.5 326.3h1.75v1.75h-1.75zM356.9 343.4h1.75v1.75h-1.75zM373.9 347.1h1.75v1.75h-1.75zM388.7 343.9h1.75v1.75h-1.75z" fill="#1c1c1c"/>
<path d="M321.8 385.9 L322.3 367.9 L322.7 362.1 L323.1 358.7 L323.7 359.1 L324.2 354.4 L324.8 359.1 L330.1 337.6 L332.9 338.0 L351.9 341.7 L364.2 359.5 L369.9 374.5 L384.5 345.1 L390.2 354.1" fill="none" stroke="#464646" stroke-width="0.62"/>
<path d="M320.9 385.1h1.75v1.75h-1.75zM321.4 367.0h1.75v1.75h-1.75zM321.8 361.2h1.75v1.75h-1.75zM322.2 357.8h1.75v1.75h-1.75zM322.8 358.2h1.75v1.75h-1.75zM323.3 353.5h1.75v1.75h-1.75zM323.9 358.2h1.75v1.75h-1.75zM329.2 336.8h1.75v1.75h-1.75zM332.0 337.1h1.75v1.75h-1.75zM351.0 340.8h1.75v1.75h-1.75zM363.4 358.6h1.75v1.75h-1.75zM369.0 373.6h1.75v1.75h-1.75zM383.7 344.3h1.75v1.75h-1.75zM389.3 353.2h1.75v1.75h-1.75z" fill="#1c1c1c"/>
<path d="M140.0 112.0 L151.9 102.7 L168.7 92.8 L181.4 91.1 L192.6 148.0" fill="none" stroke="#464646" stroke-width="0.62"/>
<path d="M139.1 111.1h1.75v1.75h-1.75zM151.0 101.8h1.75v1.75h-1.75zM167.8 91.9h1.75v1.75h-1.75zM180.5 90.2h1.75v1.75h-1.75zM191.7 147.1h1.75v1.75h-1.75z" fill="#1c1c1c"/>
<path d="M176.0 96.0 L188.3 91.5 L190.1 102.1 L190.7 107.0 L196.3 141.9" fill="none" stroke="#464646" stroke-width="0.62"/>
<path d="M175.1 95.1h1.75v1.75h-1.75zM187.4 90.6h1.75v1.75h-1.75zM189.2 101.2h1.75v1.75h-1.75zM189.8 106.1h1.75v1.75h-1.75zM195.4 141.0h1.75v1.75h-1.75z" fill="#1c1c1c"/>
<path d="M164.0 104.0 L190.1 102.1 L201.9 102.1 L209.7 132.5" fill="none" stroke="#464646" stroke-width="0.62"/>
<path d="M163.1 103.1h1.75v1.75h-1.75zM189.2 101.2h1.75v1.75h-1.75zM201.0 101.2h1.75v1.75h-1.75zM208.8 131.6h1.75v1.75h-1.75z" fill="#1c1c1c"/>
<path d="M172.0 106.4 L190.7 107.0 L219.5 106.8" fill="none" stroke="#464646" stroke-width="0.62"/>
<path d="M171.1 105.5h1.75v1.75h-1.75zM189.8 106.1h1.75v1.75h-1.75zM218.6 105.9h1.75v1.75h-1.75z" fill="#1c1c1c"/>
<path d="M196.1 134.4 L201.9 102.1" fill="none" stroke="#464646" stroke-width="0.62"/>
<path d="M195.2 133.5h1.75v1.75h-1.75zM201.0 101.2h1.75v1.75h-1.75z" fill="#1c1c1c"/>
<path d="M200.4 134.4 L203.2 114.8 L220.0 99.9" fill="none" stroke="#464646" stroke-width="0.62"/>
<path d="M199.5 133.5h1.75v1.75h-1.75zM202.3 113.9h1.75v1.75h-1.75zM219.1 99.0h1.75v1.75h-1.75z" fill="#1c1c1c"/>
<path d="M216.3 111.4 L221.5 111.4" fill="none" stroke="#464646" stroke-width="0.62"/>
<path d="M215.4 110.5h1.75v1.75h-1.75zM220.6 110.5h1.75v1.75h-1.75z" fill="#1c1c1c"/>
<path d="M154.7 109.6 L179.9 114.8 L226.9 120.8" fill="none" stroke="#464646" stroke-width="0.62"/>
<path d="M153.8 108.7h1.75v1.75h-1.75zM179.0 113.9h1.75v1.75h-1.75zM226.0 119.9h1.75v1.75h-1.75z" fill="#1c1c1c"/>
<path d="M155.2 125.5 L186.8 125.5 L221.9 127.5" fill="none" stroke="#464646" stroke-width="0.62"/>
<path d="M154.3 124.6h1.75v1.75h-1.75zM185.9 124.6h1.75v1.75h-1.75zM221.0 126.6h1.75v1.75h-1.75z" fill="#1c1c1c"/>
<path d="M150.0 112.0 L204.0 107.0 L233.5 128.4" fill="none" stroke="#464646" stroke-width="0.62"/>
<path d="M149.1 111.1h1.75v1.75h-1.75zM203.1 106.1h1.75v1.75h-1.75zM232.6 127.5h1.75v1.75h-1.75z" fill="#1c1c1c"/>
<path d="M130.0 128.0 L150.0 140.9 L170.2 151.6" fill="none" stroke="#464646" stroke-width="0.62"/>
<path d="M129.1 127.1h1.75v1.75h-1.75zM149.1 140.0h1.75v1.75h-1.75zM169.3 150.7h1.75v1.75h-1.75z" fill="#1c1c1c"/>
<path d="M128.0 120.0 L150.0 133.5 L192.6 148.0" fill="none" stroke="#464646" stroke-width="0.62"/>
<path d="M127.1 119.1h1.75v1.75h-1.75zM149.1 132.6h1.75v1.75h-1.75zM191.7 147.1h1.75v1.75h-1.75z" fill="#1c1c1c"/>
<path d="M152.8 134.4 L158.8 134.4 L164.0 104.0" fill="none" stroke="#464646" stroke-width="0.62"/>
<path d="M151.9 133.5h1.75v1.75h-1.75zM157.9 133.5h1.75v1.75h-1.75zM163.1 103.1h1.75v1.75h-1.75z" fill="#1c1c1c"/>
<path d="M153.4 129.4 L168.1 135.3 L170.9 130.7 L185.1 135.3 L192.6 134.4" fill="none" stroke="#464646" stroke-width="0.62"/>
<path d="M152.5 128.5h1.75v1.75h-1.75zM167.2 134.4h1.75v1.75h-1.75zM170.0 129.8h1.75v1.75h-1.75zM184.2 134.4h1.75v1.75h-1.75zM191.7 133.5h1.75v1.75h-1.75z" fill="#1c1c1c"/>
<path d="M146.0 118.0 L160.0 126.0 L172.0 106.4 L181.0 120.0 L188.0 112.0" fill="none" stroke="#464646" stroke-width="0.62"/>
<path d="M145.1 117.1h1.75v1.75h-1.75zM159.1 125.1h1.75v1.75h-1.75zM171.1 105.5h1.75v1.75h-1.75zM180.1 119.1h1.75v1.75h-1.75zM187.1 111.1h1.75v1.75h-1.75z" fill="#1c1c1c"/>
<path d="M142.0 100.0 L158.0 118.0 L166.0 98.0 L176.0 122.0 L186.0 104.0 L200.0 118.0 L212.0 108.0" fill="none" stroke="#464646" stroke-width="0.62"/>
<path d="M141.1 99.1h1.75v1.75h-1.75zM157.1 117.1h1.75v1.75h-1.75zM165.1 97.1h1.75v1.75h-1.75zM175.1 121.1h1.75v1.75h-1.75zM185.1 103.1h1.75v1.75h-1.75zM199.1 117.1h1.75v1.75h-1.75zM211.1 107.1h1.75v1.75h-1.75z" fill="#1c1c1c"/>
<path d="M138.0 122.0 L156.0 96.0 L170.0 118.0 L184.0 100.0 L198.0 124.0 L214.0 116.0" fill="none" stroke="#464646" stroke-width="0.62"/>
<path d="M137.1 121.1h1.75v1.75h-1.75zM155.1 95.1h1.75v1.75h-1.75zM169.1 117.1h1.75v1.75h-1.75zM183.1 99.1h1.75v1.75h-1.75zM197.1 123.1h1.75v1.75h-1.75zM213.1 115.1h1.75v1.75h-1.75z" fill="#1c1c1c"/>
<path d="M384.0 338.0 L390.0 337.0 L413.4 330.7" fill="none" stroke="#464646" stroke-width="0.62"/>
<path d="M383.1 337.1h1.75v1.75h-1.75zM389.1 336.1h1.75v1.75h-1.75zM412.5 329.8h1.75v1.75h-1.75z" fill="#1c1c1c"/>
<path d="M388.0 345.0 L400.4 342.2 L431.5 341.5 L421.1 357.3 L446.0 348.4 L466.8 363.9" fill="none" stroke="#464646" stroke-width="0.62"/>
<path d="M387.1 344.1h1.75v1.75h-1.75zM399.5 341.3h1.75v1.75h-1.75zM430.6 340.6h1.75v1.75h-1.75zM420.2 356.4h1.75v1.75h-1.75zM445.1 347.5h1.75v1.75h-1.75zM465.9 363.0h1.75v1.75h-1.75z" fill="#1c1c1c"/>
<path d="M392.0 333.0 L402.4 337.0 L408.3 346.9 L410.1 374.9" fill="none" stroke="#464646" stroke-width="0.62"/>
<path d="M391.1 332.1h1.75v1.75h-1.75zM401.5 336.1h1.75v1.75h-1.75zM407.4 346.0h1.75v1.75h-1.75zM409.2 374.0h1.75v1.75h-1.75z" fill="#1c1c1c"/>
<path d="M446.0 348.4 L460.5 341.1" fill="none" stroke="#464646" stroke-width="0.62"/>
<path d="M445.1 347.5h1.75v1.75h-1.75zM459.6 340.2h1.75v1.75h-1.75z" fill="#1c1c1c"/>
<path d="M418.4 358.1 L461.6 352.9" fill="none" stroke="#464646" stroke-width="0.62"/>
<path d="M417.5 357.2h1.75v1.75h-1.75zM460.7 352.0h1.75v1.75h-1.75z" fill="#1c1c1c"/>
<path d="M421.7 363.5 L442.3 368.5 L450.6 368.5 L466.8 371.2 L481.3 371.6" fill="none" stroke="#464646" stroke-width="0.62"/>
<path d="M420.8 362.6h1.75v1.75h-1.75zM441.4 367.6h1.75v1.75h-1.75zM449.7 367.6h1.75v1.75h-1.75zM465.9 370.3h1.75v1.75h-1.75zM480.4 370.7h1.75v1.75h-1.75z" fill="#1c1c1c"/>
<path d="M447.7 353.2 L466.8 371.2" fill="none" stroke="#464646" stroke-width="0.62"/>
<path d="M446.8 352.3h1.75v1.75h-1.75zM465.9 370.3h1.75v1.75h-1.75z" fill="#1c1c1c"/>
<path d="M414.9 359.8 L433.6 384.3" fill="none" stroke="#464646" stroke-width="0.62"/>
<path d="M414.0 358.9h1.75v1.75h-1.75zM432.7 383.4h1.75v1.75h-1.75z" fill="#1c1c1c"/>
<path d="M380.0 352.0 L390.0 366.0 L411.8 386.8" fill="none" stroke="#464646" stroke-width="0.62"/>
<path d="M379.1 351.1h1.75v1.75h-1.75zM389.1 365.1h1.75v1.75h-1.75zM410.9 385.9h1.75v1.75h-1.75z" fill="#1c1c1c"/>
<path d="M395.2 356.1 L398.9 358.1 L413.2 367.7 L428.0 366.0" fill="none" stroke="#464646" stroke-width="0.62"/>
<path d="M394.3 355.2h1.75v1.75h-1.75zM398.0 357.2h1.75v1.75h-1.75zM412.3 366.8h1.75v1.75h-1.75zM427.1 365.1h1.75v1.75h-1.75z" fill="#1c1c1c"/>
<path d="M385.0 370.0 L396.2 365.0 L410.1 374.9" fill="none" stroke="#464646" stroke-width="0.62"/>
<path d="M384.1 369.1h1.75v1.75h-1.75zM395.3 364.1h1.75v1.75h-1.75zM409.2 374.0h1.75v1.75h-1.75z" fill="#1c1c1c"/>
<path d="M431.5 341.5 L460.1 347.3" fill="none" stroke="#464646" stroke-width="0.62"/>
<path d="M430.6 340.6h1.75v1.75h-1.75zM459.2 346.4h1.75v1.75h-1.75z" fill="#1c1c1c"/>
<path d="M81.7 93.9 L81.9 172.4" fill="none" stroke="#464646" stroke-width="0.62"/>
<path d="M80.8 93.0h1.75v1.75h-1.75zM81.1 171.5h1.75v1.75h-1.75z" fill="#1c1c1c"/>
<path d="M86.1 103.1 L89.1 141.4 L92.5 97.9" fill="none" stroke="#464646" stroke-width="0.62"/>
<path d="M85.2 102.2h1.75v1.75h-1.75zM88.2 140.6h1.75v1.75h-1.75zM91.6 97.0h1.75v1.75h-1.75z" fill="#1c1c1c"/>
<path d="M93.3 93.9 L97.3 155.0 L100.5 107.0" fill="none" stroke="#464646" stroke-width="0.62"/>
<path d="M92.4 93.0h1.75v1.75h-1.75zM96.4 154.1h1.75v1.75h-1.75zM99.6 106.2h1.75v1.75h-1.75z" fill="#1c1c1c"/>
<path d="M101.3 99.8 L105.0 153.7" fill="none" stroke="#464646" stroke-width="0.62"/>
<path d="M100.4 98.9h1.75v1.75h-1.75zM104.1 152.9h1.75v1.75h-1.75z" fill="#1c1c1c"/>
<path d="M109.3 97.9 L113.8 152.0" fill="none" stroke="#464646" stroke-width="0.62"/>
<path d="M108.4 97.0h1.75v1.75h-1.75zM112.9 151.1h1.75v1.75h-1.75z" fill="#1c1c1c"/>
<path d="M112.5 90.7 L116.4 155.0" fill="none" stroke="#464646" stroke-width="0.62"/>
<path d="M111.6 89.8h1.75v1.75h-1.75zM115.6 154.1h1.75v1.75h-1.75z" fill="#1c1c1c"/>
<path d="M114.9 103.1 L121.0 164.9" fill="none" stroke="#464646" stroke-width="0.62"/>
<path d="M114.0 102.2h1.75v1.75h-1.75zM120.1 164.1h1.75v1.75h-1.75z" fill="#1c1c1c"/>
<path d="M122.0 107.0 L132.8 150.9" fill="none" stroke="#464646" stroke-width="0.62"/>
<path d="M121.2 106.2h1.75v1.75h-1.75zM132.0 150.0h1.75v1.75h-1.75z" fill="#1c1c1c"/>
<path d="M89.3 76.8 L85.4 63.8" fill="none" stroke="#464646" stroke-width="0.62"/>
<path d="M88.4 76.0h1.75v1.75h-1.75zM84.6 62.9h1.75v1.75h-1.75z" fill="#1c1c1c"/>
<path d="M215.5 116.7 L227.5 127.6" fill="none" stroke="#464646" stroke-width="0.62"/>
<path d="M214.7 115.8h1.75v1.75h-1.75zM226.6 126.7h1.75v1.75h-1.75z" fill="#1c1c1c"/>
<path d="M203.5 122.7 L229.9 128.6" fill="none" stroke="#464646" stroke-width="0.62"/>
<path d="M202.7 121.8h1.75v1.75h-1.75zM229.0 127.7h1.75v1.75h-1.75z" fill="#1c1c1c"/>
<path d="M334.4 314.7 L330.9 301.0" fill="none" stroke="#464646" stroke-width="0.62"/>
<path d="M333.5 313.8h1.75v1.75h-1.75zM330.0 300.1h1.75v1.75h-1.75z" fill="#1c1c1c"/>
<path d="M349.0 341.2 L357.4 384.6" fill="none" stroke="#464646" stroke-width="0.62"/>
<path d="M348.1 340.3h1.75v1.75h-1.75zM356.6 383.8h1.75v1.75h-1.75z" fill="#1c1c1c"/>
<path d="M355.1 334.6 L360.5 389.8" fill="none" stroke="#464646" stroke-width="0.62"/>
<path d="M354.3 333.7h1.75v1.75h-1.75zM359.6 388.9h1.75v1.75h-1.75z" fill="#1c1c1c"/>
<path d="M398.2 356.9 L412.0 386.9" fill="none" stroke="#464646" stroke-width="0.62"/>
<path d="M397.3 356.1h1.75v1.75h-1.75zM411.2 386.1h1.75v1.75h-1.75z" fill="#1c1c1c"/>
<path d="M413.6 360.1 L433.6 384.6" fill="none" stroke="#464646" stroke-width="0.62"/>
<path d="M412.7 359.2h1.75v1.75h-1.75zM432.7 383.8h1.75v1.75h-1.75z" fill="#1c1c1c"/>
<path d="M332.8 336.2 L333.6 379.7" fill="none" stroke="#464646" stroke-width="0.62"/>
<path d="M332.0 335.3h1.75v1.75h-1.75zM332.7 378.8h1.75v1.75h-1.75z" fill="#1c1c1c"/>
<path d="M341.3 332.4 L344.4 363.1" fill="none" stroke="#464646" stroke-width="0.62"/>
<path d="M340.4 331.5h1.75v1.75h-1.75zM343.5 362.2h1.75v1.75h-1.75z" fill="#1c1c1c"/>
<path d="M347.4 329.2 L352.1 375.8" fill="none" stroke="#464646" stroke-width="0.62"/>
<path d="M346.6 328.4h1.75v1.75h-1.75zM351.2 375.0h1.75v1.75h-1.75z" fill="#1c1c1c"/>
<line x1="84.0" y1="72.2" x2="275.6" y2="101.8" stroke="#1a1a1a" stroke-width="1.3" stroke-dasharray="1.5 0.5"/>
<line x1="84.0" y1="100.8" x2="275.6" y2="133.0" stroke="#000" stroke-width="1.7"/>
<line x1="84.0" y1="130.7" x2="275.6" y2="163.9" stroke="#1a1a1a" stroke-width="1.3" stroke-dasharray="1.5 0.5"/>
<line x1="329.3" y1="70.8" x2="421.8" y2="70.8" stroke="#1a1a1a" stroke-width="1.3" stroke-dasharray="1.5 0.5"/>
<line x1="329.3" y1="107.2" x2="421.8" y2="107.2" stroke="#000" stroke-width="1.7"/>
<line x1="329.3" y1="143.6" x2="421.8" y2="143.6" stroke="#1a1a1a" stroke-width="1.3" stroke-dasharray="1.5 0.5"/>
<line x1="83.5" y1="316.1" x2="215.6" y2="316.1" stroke="#1a1a1a" stroke-width="1.3" stroke-dasharray="1.5 0.5"/>
<line x1="83.5" y1="343.6" x2="215.6" y2="343.6" stroke="#000" stroke-width="1.7"/>
<line x1="83.5" y1="371.3" x2="215.6" y2="371.3" stroke="#1a1a1a" stroke-width="1.3" stroke-dasharray="1.5 0.5"/>
<line x1="328.1" y1="309.0" x2="482.3" y2="344.5" stroke="#1a1a1a" stroke-width="1.3" stroke-dasharray="1.5 0.5"/>
<line x1="328.1" y1="335.5" x2="482.3" y2="372.2" stroke="#000" stroke-width="1.7"/>
<line x1="328.1" y1="362.6" x2="482.3" y2="402.2" stroke="#1a1a1a" stroke-width="1.3" stroke-dasharray="1.5 0.5"/>
<rect x="480.9" y="370.6" width="2.6" height="3" fill="#111"/>
</svg></body></html>
